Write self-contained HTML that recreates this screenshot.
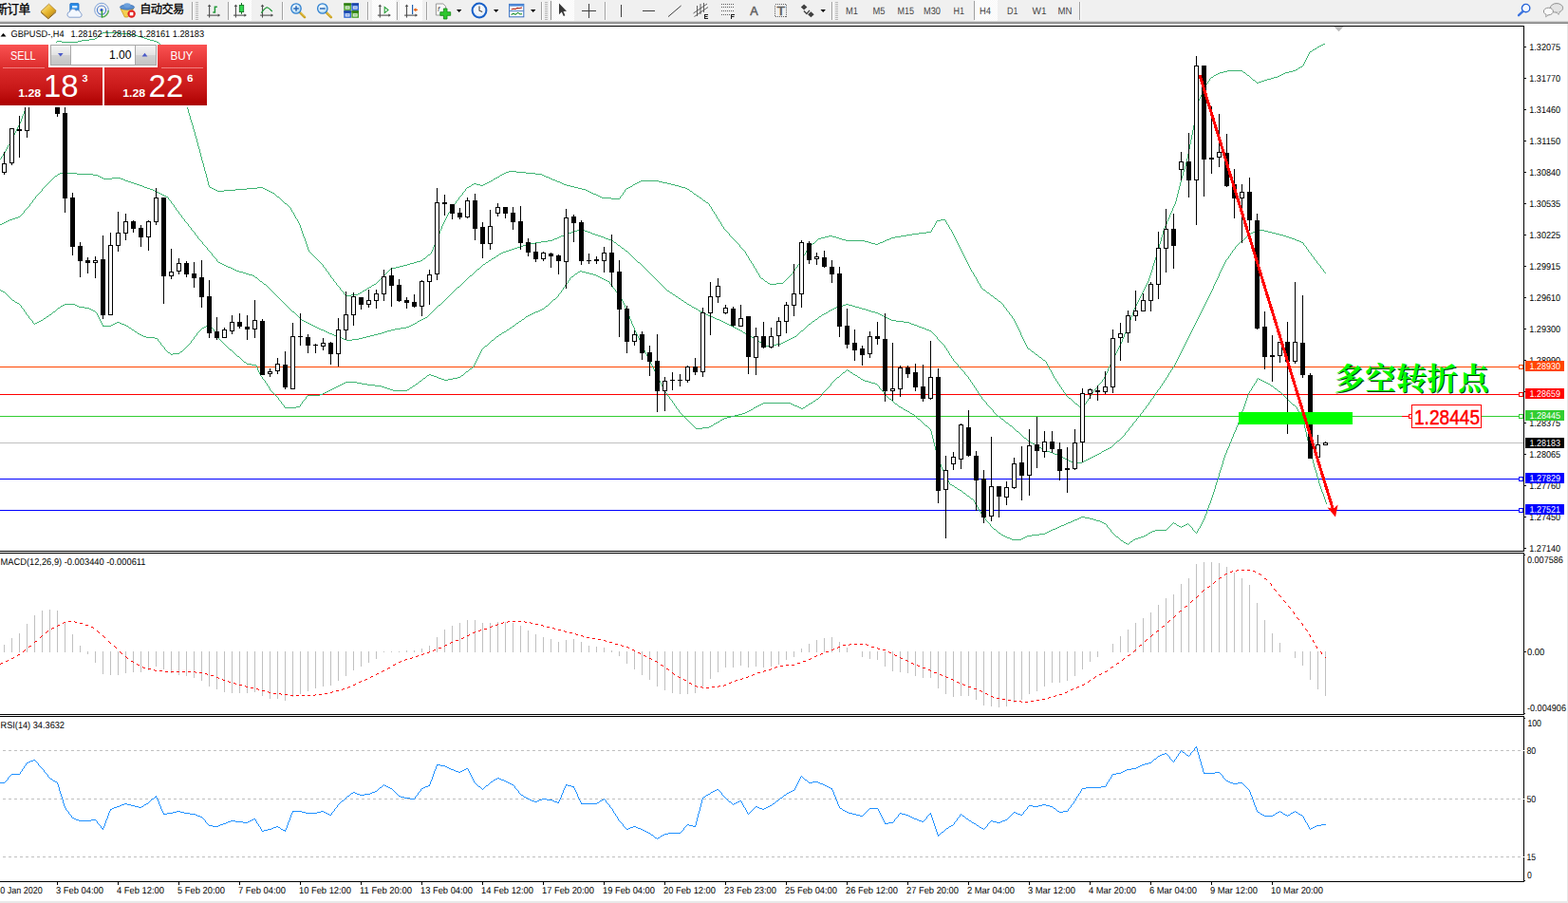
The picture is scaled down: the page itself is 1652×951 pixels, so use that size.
<!DOCTYPE html>
<html><head><meta charset="utf-8"><title>GBPUSD H4</title>
<style>
html,body{margin:0;padding:0;background:#fff;overflow:hidden}
body{width:1652px;height:951px;font-family:"Liberation Sans",sans-serif}
svg text{font-family:"Liberation Sans",sans-serif}
</style></head><body>
<svg width="1652" height="951" viewBox="0 0 1652 951" style="display:block">
<rect x="0" y="0" width="1652" height="951" fill="#fff" />
<g shape-rendering="crispEdges">
<rect x="0" y="386" width="1605" height="1" fill="#FF4500" />
<rect x="0" y="415" width="1605" height="1" fill="#FF0000" />
<rect x="0" y="438" width="1605" height="1" fill="#32CD32" />
<rect x="0" y="466" width="1605" height="1" fill="#C0C0C0" />
<rect x="0" y="504" width="1605" height="1" fill="#0000FF" />
<rect x="0" y="537" width="1605" height="1" fill="#0000FF" />
</g>
<path d="M168 46h1v2h-1zM171 50h1v2h-1zM175 55h1v2h-1zM178 59h1v2h-1zM180 62h1v2h-1zM181 64h1v2h-1zM182 66h1v3h-1zM183 69h1v3h-1zM184 72h1v2h-1zM185 74h1v3h-1zM186 77h1v2h-1zM187 79h1v3h-1zM188 82h1v3h-1zM189 85h1v2h-1zM190 87h1v3h-1zM191 90h1v4h-1zM192 94h1v3h-1zM193 97h1v4h-1zM194 101h1v4h-1zM195 105h1v3h-1zM196 108h1v4h-1zM197 112h1v3h-1zM198 115h1v4h-1zM199 119h1v3h-1zM200 122h1v4h-1zM201 126h1v3h-1zM202 129h1v3h-1zM203 132h1v4h-1zM204 136h1v3h-1zM205 139h1v4h-1zM206 143h1v3h-1zM207 146h1v4h-1zM208 150h1v4h-1zM209 154h1v3h-1zM210 157h1v4h-1zM211 161h1v4h-1zM212 165h1v4h-1zM213 169h1v3h-1zM214 172h1v4h-1zM215 176h1v4h-1zM216 180h1v3h-1zM217 183h1v4h-1zM218 187h1v4h-1zM219 191h1v4h-1zM220 195h1v2h-1zM306 219h1v2h-1zM307 221h1v2h-1zM309 224h1v2h-1zM310 226h1v2h-1zM311 228h1v2h-1zM313 231h1v2h-1zM314 233h1v2h-1zM315 235h1v2h-1zM316 237h1v3h-1zM317 240h1v3h-1zM318 243h1v3h-1zM319 246h1v3h-1zM320 249h1v2h-1zM321 251h1v3h-1zM322 254h1v3h-1zM323 257h1v3h-1zM324 260h1v3h-1zM325 263h1v2h-1zM340 279h1v2h-1zM343 283h1v2h-1zM346 287h1v2h-1zM348 290h1v2h-1zM351 294h1v2h-1zM354 298h1v2h-1zM358 303h1v2h-1zM362 308h1v2h-1zM454 265h1v2h-1zM455 263h1v2h-1zM456 260h1v3h-1zM457 258h1v2h-1zM458 256h1v2h-1zM459 253h1v3h-1zM460 251h1v2h-1zM461 248h1v3h-1zM462 246h1v2h-1zM463 243h1v3h-1zM464 241h1v2h-1zM465 238h1v3h-1zM466 236h1v2h-1zM467 234h1v2h-1zM468 232h1v2h-1zM469 230h1v2h-1zM470 228h1v2h-1zM471 226h1v2h-1zM472 224h1v2h-1zM474 221h1v2h-1zM476 218h1v2h-1zM477 216h1v2h-1zM480 212h1v2h-1zM483 208h1v2h-1zM487 203h1v2h-1zM490 199h1v2h-1zM653 207h1v2h-1zM656 203h1v2h-1zM658 200h1v2h-1zM747 215h1v2h-1zM749 218h1v2h-1zM750 220h1v2h-1zM752 223h1v2h-1zM754 226h1v2h-1zM755 228h1v2h-1zM757 231h1v2h-1zM759 234h1v2h-1zM760 236h1v2h-1zM762 239h1v2h-1zM768 246h1v2h-1zM779 258h1v2h-1zM785 265h1v2h-1zM786 267h1v2h-1zM788 270h1v2h-1zM789 272h1v2h-1zM791 275h1v2h-1zM793 278h1v2h-1zM794 280h1v2h-1zM796 283h1v2h-1zM797 285h1v2h-1zM799 288h1v2h-1zM800 290h1v2h-1zM835 286h1v2h-1zM837 283h1v2h-1zM840 279h1v2h-1zM842 276h1v2h-1zM844 273h1v2h-1zM845 271h1v2h-1zM846 269h1v2h-1zM848 266h1v2h-1zM849 264h1v2h-1zM850 262h1v2h-1zM981 242h1v2h-1zM982 240h1v2h-1zM984 237h1v2h-1zM985 235h1v2h-1zM986 233h1v2h-1zM996 232h1v2h-1zM997 234h1v2h-1zM999 237h1v2h-1zM1000 239h1v2h-1zM1002 242h1v2h-1zM1003 244h1v2h-1zM1004 246h1v2h-1zM1005 248h1v2h-1zM1006 250h1v2h-1zM1007 252h1v2h-1zM1008 254h1v2h-1zM1009 256h1v2h-1zM1010 258h1v2h-1zM1011 260h1v2h-1zM1012 262h1v2h-1zM1013 264h1v2h-1zM1014 266h1v2h-1zM1015 268h1v2h-1zM1016 270h1v2h-1zM1017 272h1v2h-1zM1018 274h1v2h-1zM1019 276h1v2h-1zM1020 278h1v2h-1zM1021 280h1v2h-1zM1022 282h1v2h-1zM1023 284h1v2h-1zM1025 287h1v2h-1zM1026 289h1v2h-1zM1028 292h1v2h-1zM1029 294h1v2h-1zM1030 296h1v2h-1zM1032 299h1v2h-1zM1033 301h1v2h-1zM1057 321h1v2h-1zM1060 325h1v2h-1zM1063 329h1v2h-1zM1066 333h1v2h-1zM1068 336h1v2h-1zM1069 338h1v2h-1zM1070 340h1v2h-1zM1071 342h1v2h-1zM1072 344h1v2h-1zM1073 346h1v2h-1zM1074 348h1v2h-1zM1075 350h1v3h-1zM1076 353h1v2h-1zM1077 355h1v2h-1zM1078 357h1v2h-1zM1079 359h1v2h-1zM1080 361h1v2h-1zM1081 363h1v2h-1zM1082 365h1v2h-1zM1102 381h1v2h-1zM1103 383h1v2h-1zM1104 385h1v2h-1zM1105 387h1v2h-1zM1107 390h1v2h-1zM1108 392h1v2h-1zM1109 394h1v2h-1zM1110 396h1v2h-1zM1112 399h1v2h-1zM1114 402h1v2h-1zM1116 405h1v2h-1zM1118 408h1v2h-1zM1120 411h1v2h-1zM1122 414h1v2h-1zM1144 423h1v2h-1zM1146 420h1v2h-1zM1148 417h1v2h-1zM1150 414h1v2h-1zM1152 411h1v2h-1zM1156 406h1v2h-1zM1161 400h1v2h-1zM1163 397h1v2h-1zM1164 395h1v2h-1zM1165 393h1v2h-1zM1166 391h1v2h-1zM1167 388h1v3h-1zM1168 386h1v2h-1zM1169 384h1v2h-1zM1170 382h1v2h-1zM1171 380h1v2h-1zM1172 378h1v2h-1zM1173 376h1v2h-1zM1174 374h1v2h-1zM1175 372h1v2h-1zM1176 370h1v2h-1zM1177 368h1v2h-1zM1178 366h1v2h-1zM1179 364h1v2h-1zM1180 362h1v2h-1zM1181 360h1v2h-1zM1182 357h1v3h-1zM1183 355h1v2h-1zM1184 352h1v3h-1zM1185 350h1v2h-1zM1186 347h1v3h-1zM1187 344h1v3h-1zM1188 342h1v2h-1zM1189 339h1v3h-1zM1190 337h1v2h-1zM1191 334h1v3h-1zM1192 332h1v2h-1zM1193 329h1v3h-1zM1194 326h1v3h-1zM1195 324h1v2h-1zM1196 322h1v2h-1zM1197 320h1v2h-1zM1198 318h1v2h-1zM1199 316h1v2h-1zM1200 314h1v2h-1zM1201 312h1v2h-1zM1202 310h1v2h-1zM1203 308h1v2h-1zM1204 306h1v2h-1zM1205 304h1v2h-1zM1206 302h1v2h-1zM1207 300h1v2h-1zM1208 298h1v2h-1zM1209 296h1v2h-1zM1210 293h1v3h-1zM1211 290h1v3h-1zM1212 287h1v3h-1zM1213 284h1v3h-1zM1214 280h1v4h-1zM1215 277h1v3h-1zM1216 274h1v3h-1zM1217 271h1v3h-1zM1218 268h1v3h-1zM1219 264h1v4h-1zM1220 261h1v3h-1zM1221 257h1v4h-1zM1222 254h1v3h-1zM1223 250h1v4h-1zM1224 247h1v3h-1zM1225 243h1v4h-1zM1226 240h1v3h-1zM1227 238h1v2h-1zM1228 236h1v2h-1zM1229 233h1v3h-1zM1230 231h1v2h-1zM1231 229h1v2h-1zM1232 226h1v3h-1zM1233 224h1v2h-1zM1234 222h1v2h-1zM1235 219h1v3h-1zM1236 217h1v2h-1zM1237 215h1v2h-1zM1238 212h1v3h-1zM1239 208h1v4h-1zM1240 204h1v4h-1zM1241 200h1v4h-1zM1242 196h1v4h-1zM1243 192h1v4h-1zM1244 188h1v4h-1zM1245 185h1v3h-1zM1246 181h1v4h-1zM1247 178h1v3h-1zM1248 175h1v3h-1zM1249 171h1v4h-1zM1250 167h1v4h-1zM1251 162h1v5h-1zM1252 157h1v5h-1zM1253 152h1v5h-1zM1254 147h1v5h-1zM1255 142h1v5h-1zM1256 137h1v5h-1zM1257 132h1v5h-1zM1258 127h1v5h-1zM1259 121h1v6h-1zM1260 116h1v5h-1zM1261 110h1v6h-1zM1262 106h1v4h-1zM1263 104h1v2h-1zM1264 102h1v2h-1zM1265 100h1v2h-1zM1266 97h1v3h-1zM1267 95h1v2h-1zM1268 93h1v2h-1zM1269 91h1v2h-1zM1270 89h1v2h-1zM1272 86h1v2h-1zM1274 83h1v2h-1zM1373 67h1v2h-1zM1374 65h1v2h-1zM1375 63h1v2h-1zM1376 61h1v2h-1zM1377 59h1v2h-1zM1378 57h1v2h-1zM1379 55h1v2h-1zM108 34h19v1h-19zM106 35h2v1h-2zM127 35h9v1h-9zM105 36h1v1h-1zM136 36h6v1h-6zM104 37h1v1h-1zM142 37h3v1h-3zM103 38h1v1h-1zM145 38h4v1h-4zM102 39h1v1h-1zM149 39h3v1h-3zM100 40h2v1h-2zM152 40h3v1h-3zM94 41h6v1h-6zM155 41h3v1h-3zM86 42h8v1h-8zM158 42h4v1h-4zM60 43h5v1h-5zM82 43h4v1h-4zM162 43h3v1h-3zM59 44h1v1h-1zM65 44h17v1h-17zM165 44h2v1h-2zM167 45h1v1h-1zM1394 46h2v1h-2zM1392 47h2v1h-2zM169 48h1v1h-1zM1390 48h2v1h-2zM170 49h1v1h-1zM1388 49h2v1h-2zM1387 50h1v1h-1zM1385 51h2v1h-2zM172 52h1v1h-1zM1383 52h2v1h-2zM173 53h1v1h-1zM1382 53h1v1h-1zM174 54h1v1h-1zM1380 54h2v1h-2zM176 57h1v1h-1zM177 58h1v1h-1zM179 61h1v1h-1zM1372 69h1v1h-1zM1370 70h2v1h-2zM1368 71h2v1h-2zM1367 72h1v1h-1zM1365 73h2v1h-2zM1293 74h16v1h-16zM1362 74h3v1h-3zM1289 75h4v1h-4zM1309 75h1v1h-1zM1358 75h4v1h-4zM1285 76h4v1h-4zM1310 76h2v1h-2zM1354 76h4v1h-4zM1283 77h2v1h-2zM1312 77h1v1h-1zM1352 77h2v1h-2zM1281 78h2v1h-2zM1313 78h1v1h-1zM1350 78h2v1h-2zM1279 79h2v1h-2zM1314 79h2v1h-2zM1348 79h2v1h-2zM1278 80h1v1h-1zM1316 80h1v1h-1zM1346 80h2v1h-2zM1276 81h2v1h-2zM1317 81h1v1h-1zM1342 81h4v1h-4zM1275 82h1v1h-1zM1318 82h1v1h-1zM1339 82h3v1h-3zM1319 83h1v1h-1zM1335 83h4v1h-4zM1320 84h2v1h-2zM1332 84h3v1h-3zM1273 85h1v1h-1zM1322 85h1v1h-1zM1329 85h3v1h-3zM1323 86h1v1h-1zM1326 86h3v1h-3zM1324 87h2v1h-2zM1271 88h1v1h-1zM536 180h8v1h-8zM533 181h3v1h-3zM544 181h10v1h-10zM531 182h2v1h-2zM554 182h10v1h-10zM529 183h2v1h-2zM564 183h7v1h-7zM527 184h2v1h-2zM571 184h2v1h-2zM526 185h1v1h-1zM573 185h2v1h-2zM524 186h2v1h-2zM575 186h3v1h-3zM522 187h2v1h-2zM578 187h2v1h-2zM520 188h2v1h-2zM580 188h2v1h-2zM519 189h1v1h-1zM582 189h3v1h-3zM517 190h2v1h-2zM585 190h2v1h-2zM675 190h19v1h-19zM515 191h2v1h-2zM587 191h3v1h-3zM673 191h2v1h-2zM694 191h4v1h-4zM513 192h2v1h-2zM590 192h2v1h-2zM671 192h2v1h-2zM698 192h5v1h-5zM499 193h3v1h-3zM511 193h2v1h-2zM592 193h2v1h-2zM669 193h2v1h-2zM703 193h4v1h-4zM497 194h2v1h-2zM502 194h4v1h-4zM509 194h2v1h-2zM594 194h3v1h-3zM667 194h2v1h-2zM707 194h4v1h-4zM496 195h1v1h-1zM506 195h3v1h-3zM597 195h4v1h-4zM666 195h1v1h-1zM711 195h4v1h-4zM494 196h2v1h-2zM601 196h4v1h-4zM664 196h2v1h-2zM715 196h3v1h-3zM221 197h2v1h-2zM271 197h6v1h-6zM492 197h2v1h-2zM605 197h4v1h-4zM662 197h2v1h-2zM718 197h4v1h-4zM223 198h2v1h-2zM260 198h11v1h-11zM277 198h2v1h-2zM491 198h1v1h-1zM609 198h4v1h-4zM660 198h2v1h-2zM722 198h2v1h-2zM225 199h2v1h-2zM248 199h12v1h-12zM279 199h2v1h-2zM613 199h4v1h-4zM659 199h1v1h-1zM724 199h2v1h-2zM227 200h2v1h-2zM236 200h12v1h-12zM281 200h2v1h-2zM617 200h2v1h-2zM726 200h1v1h-1zM229 201h7v1h-7zM283 201h2v1h-2zM489 201h1v1h-1zM619 201h2v1h-2zM727 201h2v1h-2zM285 202h2v1h-2zM488 202h1v1h-1zM621 202h2v1h-2zM657 202h1v1h-1zM729 202h1v1h-1zM287 203h2v1h-2zM623 203h2v1h-2zM730 203h1v1h-1zM289 204h1v1h-1zM625 204h3v1h-3zM731 204h2v1h-2zM290 205h1v1h-1zM486 205h1v1h-1zM628 205h2v1h-2zM655 205h1v1h-1zM733 205h1v1h-1zM291 206h1v1h-1zM485 206h1v1h-1zM630 206h2v1h-2zM654 206h1v1h-1zM734 206h2v1h-2zM292 207h2v1h-2zM484 207h1v1h-1zM632 207h2v1h-2zM736 207h1v1h-1zM294 208h1v1h-1zM634 208h10v1h-10zM737 208h2v1h-2zM295 209h1v1h-1zM644 209h9v1h-9zM739 209h1v1h-1zM296 210h1v1h-1zM482 210h1v1h-1zM740 210h1v1h-1zM297 211h1v1h-1zM481 211h1v1h-1zM741 211h2v1h-2zM298 212h1v1h-1zM743 212h1v1h-1zM299 213h1v1h-1zM744 213h2v1h-2zM300 214h2v1h-2zM479 214h1v1h-1zM746 214h1v1h-1zM302 215h1v1h-1zM478 215h1v1h-1zM303 216h1v1h-1zM304 217h1v1h-1zM748 217h1v1h-1zM305 218h1v1h-1zM475 220h1v1h-1zM751 222h1v1h-1zM308 223h1v1h-1zM473 223h1v1h-1zM753 225h1v1h-1zM312 230h1v1h-1zM756 230h1v1h-1zM991 231h5v1h-5zM987 232h4v1h-4zM758 233h1v1h-1zM998 236h1v1h-1zM761 238h1v1h-1zM983 239h1v1h-1zM763 241h1v1h-1zM1001 241h1v1h-1zM764 242h1v1h-1zM765 243h1v1h-1zM766 244h1v1h-1zM976 244h5v1h-5zM767 245h1v1h-1zM968 245h8v1h-8zM961 246h7v1h-7zM955 247h6v1h-6zM769 248h1v1h-1zM873 248h4v1h-4zM949 248h6v1h-6zM770 249h1v1h-1zM869 249h4v1h-4zM877 249h4v1h-4zM943 249h6v1h-6zM771 250h1v1h-1zM865 250h4v1h-4zM881 250h3v1h-3zM939 250h4v1h-4zM772 251h1v1h-1zM862 251h3v1h-3zM884 251h3v1h-3zM937 251h2v1h-2zM773 252h1v1h-1zM861 252h1v1h-1zM887 252h4v1h-4zM934 252h3v1h-3zM774 253h1v1h-1zM860 253h1v1h-1zM891 253h20v1h-20zM932 253h2v1h-2zM775 254h1v1h-1zM859 254h1v1h-1zM911 254h4v1h-4zM930 254h2v1h-2zM776 255h1v1h-1zM858 255h1v1h-1zM915 255h3v1h-3zM927 255h3v1h-3zM777 256h1v1h-1zM856 256h2v1h-2zM918 256h4v1h-4zM925 256h2v1h-2zM778 257h1v1h-1zM855 257h1v1h-1zM922 257h3v1h-3zM854 258h1v1h-1zM853 259h1v1h-1zM780 260h1v1h-1zM852 260h1v1h-1zM781 261h1v1h-1zM851 261h1v1h-1zM782 262h1v1h-1zM783 263h1v1h-1zM784 264h1v1h-1zM326 265h1v1h-1zM327 266h1v1h-1zM328 267h1v1h-1zM453 267h1v1h-1zM329 268h1v1h-1zM451 268h2v1h-2zM847 268h1v1h-1zM330 269h1v1h-1zM450 269h1v1h-1zM787 269h1v1h-1zM331 270h1v1h-1zM449 270h1v1h-1zM332 271h1v1h-1zM448 271h1v1h-1zM333 272h1v1h-1zM446 272h2v1h-2zM334 273h1v1h-1zM445 273h1v1h-1zM335 274h1v1h-1zM443 274h2v1h-2zM790 274h1v1h-1zM336 275h1v1h-1zM439 275h4v1h-4zM843 275h1v1h-1zM337 276h1v1h-1zM436 276h3v1h-3zM338 277h1v1h-1zM432 277h4v1h-4zM792 277h1v1h-1zM339 278h1v1h-1zM429 278h3v1h-3zM841 278h1v1h-1zM425 279h4v1h-4zM421 280h4v1h-4zM341 281h1v1h-1zM417 281h4v1h-4zM839 281h1v1h-1zM342 282h1v1h-1zM413 282h4v1h-4zM795 282h1v1h-1zM838 282h1v1h-1zM411 283h2v1h-2zM410 284h1v1h-1zM344 285h1v1h-1zM409 285h1v1h-1zM836 285h1v1h-1zM345 286h1v1h-1zM408 286h1v1h-1zM1024 286h1v1h-1zM407 287h1v1h-1zM798 287h1v1h-1zM406 288h1v1h-1zM834 288h1v1h-1zM347 289h1v1h-1zM405 289h1v1h-1zM833 289h1v1h-1zM404 290h1v1h-1zM832 290h1v1h-1zM403 291h1v1h-1zM831 291h1v1h-1zM1027 291h1v1h-1zM349 292h1v1h-1zM402 292h1v1h-1zM801 292h1v1h-1zM830 292h1v1h-1zM350 293h1v1h-1zM401 293h1v1h-1zM802 293h2v1h-2zM829 293h1v1h-1zM400 294h1v1h-1zM804 294h1v1h-1zM828 294h1v1h-1zM399 295h1v1h-1zM805 295h1v1h-1zM827 295h1v1h-1zM352 296h1v1h-1zM398 296h1v1h-1zM806 296h2v1h-2zM826 296h1v1h-1zM353 297h1v1h-1zM397 297h1v1h-1zM808 297h1v1h-1zM825 297h1v1h-1zM396 298h1v1h-1zM809 298h2v1h-2zM818 298h7v1h-7zM1031 298h1v1h-1zM394 299h2v1h-2zM811 299h7v1h-7zM355 300h1v1h-1zM392 300h2v1h-2zM356 301h1v1h-1zM391 301h1v1h-1zM357 302h1v1h-1zM389 302h2v1h-2zM387 303h2v1h-2zM1034 303h1v1h-1zM386 304h1v1h-1zM1035 304h1v1h-1zM359 305h1v1h-1zM384 305h2v1h-2zM1036 305h2v1h-2zM360 306h1v1h-1zM382 306h2v1h-2zM1038 306h1v1h-1zM361 307h1v1h-1zM381 307h1v1h-1zM1039 307h1v1h-1zM379 308h2v1h-2zM1040 308h2v1h-2zM377 309h2v1h-2zM1042 309h1v1h-1zM363 310h1v1h-1zM370 310h7v1h-7zM1043 310h1v1h-1zM364 311h6v1h-6zM1044 311h2v1h-2zM1046 312h1v1h-1zM1047 313h1v1h-1zM1048 314h2v1h-2zM1050 315h1v1h-1zM1051 316h1v1h-1zM1052 317h2v1h-2zM1054 318h1v1h-1zM1055 319h1v1h-1zM1056 320h1v1h-1zM1058 323h1v1h-1zM1059 324h1v1h-1zM1061 327h1v1h-1zM1062 328h1v1h-1zM1064 331h1v1h-1zM1065 332h1v1h-1zM1067 335h1v1h-1zM1083 367h2v1h-2zM1085 368h1v1h-1zM1086 369h1v1h-1zM1087 370h2v1h-2zM1089 371h1v1h-1zM1090 372h1v1h-1zM1091 373h2v1h-2zM1093 374h1v1h-1zM1094 375h1v1h-1zM1095 376h2v1h-2zM1097 377h1v1h-1zM1098 378h1v1h-1zM1099 379h2v1h-2zM1101 380h1v1h-1zM1106 389h1v1h-1zM1111 398h1v1h-1zM1162 399h1v1h-1zM1113 401h1v1h-1zM1160 402h1v1h-1zM1159 403h1v1h-1zM1115 404h1v1h-1zM1158 404h1v1h-1zM1157 405h1v1h-1zM1117 407h1v1h-1zM1155 408h1v1h-1zM1154 409h1v1h-1zM1119 410h1v1h-1zM1153 410h1v1h-1zM1121 413h1v1h-1zM1151 413h1v1h-1zM1123 416h1v1h-1zM1149 416h1v1h-1zM1124 417h1v1h-1zM1125 418h1v1h-1zM1126 419h2v1h-2zM1147 419h1v1h-1zM1128 420h1v1h-1zM1129 421h1v1h-1zM1130 422h1v1h-1zM1145 422h1v1h-1zM1131 423h1v1h-1zM1132 424h1v1h-1zM1133 425h2v1h-2zM1142 425h2v1h-2zM1135 426h1v1h-1zM1140 426h2v1h-2zM1136 427h1v1h-1zM1138 427h2v1h-2zM1137 428h1v1h-1z" fill="#3CB371" shape-rendering="crispEdges"/>
<path d="M1 165h1v2h-1zM3 162h1v2h-1zM5 159h1v2h-1zM6 157h1v2h-1zM7 155h1v2h-1zM8 153h1v2h-1zM10 150h1v2h-1zM11 148h1v2h-1zM12 146h1v2h-1zM13 144h1v2h-1zM14 142h1v2h-1zM15 140h1v2h-1zM16 138h1v2h-1zM17 136h1v2h-1zM18 134h1v2h-1zM19 132h1v2h-1zM20 130h1v2h-1zM21 128h1v2h-1zM22 125h1v3h-1zM23 122h1v3h-1zM24 120h1v2h-1zM25 117h1v3h-1zM26 114h1v3h-1zM27 112h1v2h-1zM9 152h1v1h-1zM4 161h1v1h-1zM2 164h1v1h-1zM0 167h1v1h-1z" fill="#3CB371" shape-rendering="crispEdges"/>
<path d="M25 222h1v2h-1zM31 215h1v2h-1zM34 211h1v2h-1zM37 207h1v2h-1zM44 199h1v2h-1zM177 208h1v2h-1zM180 212h1v2h-1zM183 216h1v2h-1zM185 219h1v2h-1zM188 223h1v2h-1zM191 227h1v2h-1zM194 231h1v2h-1zM198 236h1v2h-1zM201 240h1v2h-1zM205 245h1v2h-1zM208 249h1v2h-1zM213 255h1v2h-1zM218 261h1v2h-1zM223 267h1v2h-1zM228 273h1v2h-1zM987 355h1v2h-1zM995 364h1v2h-1zM997 367h1v2h-1zM999 370h1v2h-1zM1000 372h1v2h-1zM1002 375h1v2h-1zM1004 378h1v2h-1zM1009 384h1v2h-1zM1016 392h1v2h-1zM1020 397h1v2h-1zM1022 400h1v2h-1zM1024 403h1v2h-1zM1026 406h1v2h-1zM1028 409h1v2h-1zM1030 412h1v2h-1zM1032 415h1v2h-1zM1034 418h1v2h-1zM1039 424h1v2h-1zM1046 432h1v2h-1zM1185 456h1v2h-1zM1189 451h1v2h-1zM1193 446h1v2h-1zM1197 441h1v2h-1zM1201 436h1v2h-1zM1204 432h1v2h-1zM1207 428h1v2h-1zM1210 424h1v2h-1zM1212 421h1v2h-1zM1215 417h1v2h-1zM1217 414h1v2h-1zM1219 411h1v2h-1zM1222 407h1v2h-1zM1224 404h1v2h-1zM1226 401h1v2h-1zM1228 398h1v2h-1zM1230 395h1v2h-1zM1231 393h1v2h-1zM1233 390h1v2h-1zM1235 387h1v2h-1zM1237 384h1v2h-1zM1238 382h1v2h-1zM1239 380h1v2h-1zM1240 378h1v2h-1zM1241 376h1v2h-1zM1242 374h1v2h-1zM1243 372h1v2h-1zM1244 370h1v2h-1zM1245 368h1v2h-1zM1246 366h1v2h-1zM1247 364h1v2h-1zM1248 362h1v2h-1zM1249 360h1v2h-1zM1250 358h1v2h-1zM1251 356h1v2h-1zM1252 354h1v2h-1zM1253 352h1v2h-1zM1254 350h1v2h-1zM1255 348h1v2h-1zM1256 346h1v2h-1zM1257 344h1v2h-1zM1258 342h1v2h-1zM1259 340h1v2h-1zM1260 338h1v2h-1zM1261 336h1v2h-1zM1262 334h1v2h-1zM1263 332h1v2h-1zM1264 330h1v2h-1zM1265 328h1v2h-1zM1266 326h1v2h-1zM1267 324h1v2h-1zM1268 322h1v2h-1zM1269 320h1v2h-1zM1270 318h1v2h-1zM1271 316h1v2h-1zM1272 314h1v2h-1zM1273 312h1v2h-1zM1274 310h1v2h-1zM1275 308h1v2h-1zM1276 306h1v2h-1zM1277 304h1v2h-1zM1278 301h1v3h-1zM1279 299h1v2h-1zM1280 297h1v2h-1zM1281 295h1v2h-1zM1282 293h1v2h-1zM1283 291h1v2h-1zM1284 288h1v3h-1zM1285 286h1v2h-1zM1286 284h1v2h-1zM1287 282h1v2h-1zM1288 280h1v2h-1zM1289 278h1v2h-1zM1290 276h1v2h-1zM1291 274h1v2h-1zM1294 270h1v2h-1zM1296 267h1v2h-1zM1298 264h1v2h-1zM1301 260h1v2h-1zM1373 256h1v2h-1zM1376 260h1v2h-1zM1378 263h1v2h-1zM1381 267h1v2h-1zM1384 271h1v2h-1zM1387 275h1v2h-1zM1391 280h1v2h-1zM1394 284h1v2h-1zM63 182h18v1h-18zM61 183h2v1h-2zM81 183h17v1h-17zM60 184h1v1h-1zM98 184h5v1h-5zM58 185h2v1h-2zM103 185h2v1h-2zM57 186h1v1h-1zM105 186h2v1h-2zM56 187h1v1h-1zM107 187h2v1h-2zM118 187h9v1h-9zM55 188h1v1h-1zM109 188h9v1h-9zM127 188h3v1h-3zM54 189h1v1h-1zM130 189h2v1h-2zM53 190h1v1h-1zM132 190h3v1h-3zM52 191h1v1h-1zM135 191h3v1h-3zM51 192h1v1h-1zM138 192h3v1h-3zM50 193h1v1h-1zM141 193h3v1h-3zM49 194h1v1h-1zM144 194h3v1h-3zM48 195h1v1h-1zM147 195h3v1h-3zM47 196h1v1h-1zM150 196h2v1h-2zM46 197h1v1h-1zM152 197h3v1h-3zM45 198h1v1h-1zM155 198h3v1h-3zM158 199h3v1h-3zM161 200h2v1h-2zM43 201h1v1h-1zM163 201h2v1h-2zM42 202h1v1h-1zM165 202h2v1h-2zM41 203h1v1h-1zM167 203h2v1h-2zM40 204h1v1h-1zM169 204h2v1h-2zM39 205h1v1h-1zM171 205h2v1h-2zM38 206h1v1h-1zM173 206h2v1h-2zM175 207h2v1h-2zM36 209h1v1h-1zM35 210h1v1h-1zM178 210h1v1h-1zM179 211h1v1h-1zM33 213h1v1h-1zM32 214h1v1h-1zM181 214h1v1h-1zM182 215h1v1h-1zM30 217h1v1h-1zM29 218h1v1h-1zM184 218h1v1h-1zM28 219h1v1h-1zM27 220h1v1h-1zM26 221h1v1h-1zM186 221h1v1h-1zM187 222h1v1h-1zM24 224h1v1h-1zM23 225h1v1h-1zM189 225h1v1h-1zM22 226h1v1h-1zM190 226h1v1h-1zM21 227h1v1h-1zM19 228h2v1h-2zM16 229h3v1h-3zM192 229h1v1h-1zM13 230h3v1h-3zM193 230h1v1h-1zM10 231h3v1h-3zM8 232h2v1h-2zM6 233h2v1h-2zM195 233h1v1h-1zM4 234h2v1h-2zM196 234h1v1h-1zM2 235h2v1h-2zM197 235h1v1h-1zM0 236h2v1h-2zM199 238h1v1h-1zM200 239h1v1h-1zM611 241h3v1h-3zM202 242h1v1h-1zM608 242h3v1h-3zM614 242h2v1h-2zM1326 242h6v1h-6zM203 243h1v1h-1zM605 243h3v1h-3zM616 243h3v1h-3zM1322 243h4v1h-4zM1332 243h4v1h-4zM204 244h1v1h-1zM602 244h3v1h-3zM619 244h3v1h-3zM1320 244h2v1h-2zM1336 244h4v1h-4zM599 245h3v1h-3zM622 245h2v1h-2zM1318 245h2v1h-2zM1340 245h4v1h-4zM596 246h3v1h-3zM624 246h3v1h-3zM1317 246h1v1h-1zM1344 246h4v1h-4zM206 247h1v1h-1zM594 247h2v1h-2zM627 247h3v1h-3zM1315 247h2v1h-2zM1348 247h4v1h-4zM207 248h1v1h-1zM591 248h3v1h-3zM630 248h3v1h-3zM1314 248h1v1h-1zM1352 248h3v1h-3zM589 249h2v1h-2zM633 249h3v1h-3zM1313 249h1v1h-1zM1355 249h3v1h-3zM587 250h2v1h-2zM636 250h2v1h-2zM1312 250h1v1h-1zM1358 250h3v1h-3zM209 251h1v1h-1zM584 251h3v1h-3zM638 251h3v1h-3zM1311 251h1v1h-1zM1361 251h3v1h-3zM210 252h1v1h-1zM582 252h2v1h-2zM641 252h3v1h-3zM1310 252h1v1h-1zM1364 252h2v1h-2zM211 253h1v1h-1zM577 253h5v1h-5zM644 253h2v1h-2zM1308 253h2v1h-2zM1366 253h3v1h-3zM212 254h1v1h-1zM570 254h7v1h-7zM646 254h1v1h-1zM1307 254h1v1h-1zM1369 254h2v1h-2zM564 255h6v1h-6zM647 255h2v1h-2zM1306 255h1v1h-1zM1371 255h2v1h-2zM559 256h5v1h-5zM649 256h1v1h-1zM1305 256h1v1h-1zM214 257h1v1h-1zM555 257h4v1h-4zM650 257h1v1h-1zM1304 257h1v1h-1zM215 258h1v1h-1zM551 258h4v1h-4zM651 258h2v1h-2zM1303 258h1v1h-1zM1374 258h1v1h-1zM216 259h1v1h-1zM548 259h3v1h-3zM653 259h1v1h-1zM1302 259h1v1h-1zM1375 259h1v1h-1zM217 260h1v1h-1zM545 260h3v1h-3zM654 260h1v1h-1zM542 261h3v1h-3zM655 261h2v1h-2zM539 262h3v1h-3zM657 262h1v1h-1zM1300 262h1v1h-1zM1377 262h1v1h-1zM219 263h1v1h-1zM536 263h3v1h-3zM658 263h1v1h-1zM1299 263h1v1h-1zM220 264h1v1h-1zM533 264h3v1h-3zM659 264h2v1h-2zM221 265h1v1h-1zM530 265h3v1h-3zM661 265h1v1h-1zM1379 265h1v1h-1zM222 266h1v1h-1zM528 266h2v1h-2zM662 266h1v1h-1zM1297 266h1v1h-1zM1380 266h1v1h-1zM526 267h2v1h-2zM663 267h1v1h-1zM525 268h1v1h-1zM664 268h1v1h-1zM224 269h1v1h-1zM523 269h2v1h-2zM665 269h1v1h-1zM1295 269h1v1h-1zM1382 269h1v1h-1zM225 270h1v1h-1zM522 270h1v1h-1zM666 270h1v1h-1zM1383 270h1v1h-1zM226 271h1v1h-1zM520 271h2v1h-2zM667 271h1v1h-1zM227 272h1v1h-1zM518 272h2v1h-2zM668 272h1v1h-1zM1293 272h1v1h-1zM517 273h1v1h-1zM669 273h1v1h-1zM1292 273h1v1h-1zM1385 273h1v1h-1zM515 274h2v1h-2zM670 274h1v1h-1zM1386 274h1v1h-1zM229 275h1v1h-1zM514 275h1v1h-1zM671 275h1v1h-1zM230 276h2v1h-2zM512 276h2v1h-2zM672 276h2v1h-2zM232 277h2v1h-2zM511 277h1v1h-1zM674 277h1v1h-1zM1388 277h1v1h-1zM234 278h2v1h-2zM509 278h2v1h-2zM675 278h1v1h-1zM1389 278h1v1h-1zM236 279h2v1h-2zM508 279h1v1h-1zM676 279h1v1h-1zM1390 279h1v1h-1zM238 280h2v1h-2zM507 280h1v1h-1zM677 280h1v1h-1zM240 281h3v1h-3zM506 281h1v1h-1zM678 281h1v1h-1zM243 282h2v1h-2zM505 282h1v1h-1zM679 282h1v1h-1zM1392 282h1v1h-1zM245 283h2v1h-2zM503 283h2v1h-2zM680 283h1v1h-1zM1393 283h1v1h-1zM247 284h2v1h-2zM502 284h1v1h-1zM681 284h1v1h-1zM249 285h3v1h-3zM501 285h1v1h-1zM682 285h1v1h-1zM252 286h4v1h-4zM500 286h1v1h-1zM683 286h1v1h-1zM1395 286h1v1h-1zM256 287h3v1h-3zM499 287h1v1h-1zM684 287h1v1h-1zM1396 287h1v1h-1zM259 288h3v1h-3zM498 288h1v1h-1zM685 288h1v1h-1zM262 289h4v1h-4zM497 289h1v1h-1zM686 289h1v1h-1zM266 290h2v1h-2zM495 290h2v1h-2zM687 290h1v1h-1zM268 291h1v1h-1zM494 291h1v1h-1zM688 291h1v1h-1zM269 292h2v1h-2zM493 292h1v1h-1zM689 292h1v1h-1zM271 293h1v1h-1zM492 293h1v1h-1zM690 293h1v1h-1zM272 294h1v1h-1zM491 294h1v1h-1zM691 294h1v1h-1zM273 295h1v1h-1zM490 295h1v1h-1zM692 295h1v1h-1zM274 296h2v1h-2zM489 296h1v1h-1zM693 296h1v1h-1zM276 297h1v1h-1zM488 297h1v1h-1zM694 297h1v1h-1zM277 298h1v1h-1zM487 298h1v1h-1zM695 298h1v1h-1zM278 299h2v1h-2zM486 299h1v1h-1zM696 299h1v1h-1zM280 300h1v1h-1zM485 300h1v1h-1zM697 300h1v1h-1zM281 301h1v1h-1zM484 301h1v1h-1zM698 301h1v1h-1zM282 302h1v1h-1zM482 302h2v1h-2zM699 302h1v1h-1zM283 303h1v1h-1zM481 303h1v1h-1zM700 303h1v1h-1zM284 304h1v1h-1zM480 304h1v1h-1zM701 304h1v1h-1zM285 305h1v1h-1zM479 305h1v1h-1zM702 305h1v1h-1zM286 306h1v1h-1zM478 306h1v1h-1zM703 306h2v1h-2zM287 307h1v1h-1zM477 307h1v1h-1zM705 307h1v1h-1zM288 308h1v1h-1zM476 308h1v1h-1zM706 308h2v1h-2zM289 309h1v1h-1zM475 309h1v1h-1zM708 309h1v1h-1zM290 310h1v1h-1zM474 310h1v1h-1zM709 310h2v1h-2zM291 311h1v1h-1zM473 311h1v1h-1zM711 311h1v1h-1zM292 312h1v1h-1zM472 312h1v1h-1zM712 312h2v1h-2zM293 313h1v1h-1zM471 313h1v1h-1zM714 313h1v1h-1zM294 314h1v1h-1zM470 314h1v1h-1zM715 314h2v1h-2zM295 315h1v1h-1zM469 315h1v1h-1zM717 315h1v1h-1zM296 316h1v1h-1zM468 316h1v1h-1zM718 316h2v1h-2zM297 317h1v1h-1zM467 317h1v1h-1zM720 317h1v1h-1zM298 318h1v1h-1zM466 318h1v1h-1zM721 318h2v1h-2zM299 319h1v1h-1zM465 319h1v1h-1zM723 319h1v1h-1zM300 320h1v1h-1zM464 320h1v1h-1zM724 320h2v1h-2zM891 320h3v1h-3zM301 321h1v1h-1zM462 321h2v1h-2zM726 321h2v1h-2zM888 321h3v1h-3zM894 321h4v1h-4zM302 322h1v1h-1zM461 322h1v1h-1zM728 322h1v1h-1zM884 322h4v1h-4zM898 322h3v1h-3zM303 323h1v1h-1zM460 323h1v1h-1zM729 323h2v1h-2zM881 323h3v1h-3zM901 323h4v1h-4zM304 324h1v1h-1zM459 324h1v1h-1zM731 324h2v1h-2zM879 324h2v1h-2zM905 324h3v1h-3zM305 325h1v1h-1zM458 325h1v1h-1zM733 325h2v1h-2zM877 325h2v1h-2zM908 325h4v1h-4zM306 326h1v1h-1zM457 326h1v1h-1zM735 326h1v1h-1zM875 326h2v1h-2zM912 326h3v1h-3zM307 327h1v1h-1zM456 327h1v1h-1zM736 327h2v1h-2zM873 327h2v1h-2zM915 327h3v1h-3zM308 328h2v1h-2zM455 328h1v1h-1zM738 328h2v1h-2zM872 328h1v1h-1zM918 328h4v1h-4zM310 329h1v1h-1zM454 329h1v1h-1zM740 329h2v1h-2zM870 329h2v1h-2zM922 329h3v1h-3zM311 330h1v1h-1zM453 330h1v1h-1zM742 330h2v1h-2zM868 330h2v1h-2zM925 330h2v1h-2zM312 331h1v1h-1zM452 331h1v1h-1zM744 331h2v1h-2zM866 331h2v1h-2zM927 331h2v1h-2zM313 332h1v1h-1zM451 332h1v1h-1zM746 332h2v1h-2zM865 332h1v1h-1zM929 332h2v1h-2zM314 333h1v1h-1zM450 333h1v1h-1zM748 333h3v1h-3zM863 333h2v1h-2zM931 333h2v1h-2zM315 334h1v1h-1zM448 334h2v1h-2zM751 334h2v1h-2zM862 334h1v1h-1zM933 334h2v1h-2zM316 335h1v1h-1zM446 335h2v1h-2zM753 335h2v1h-2zM861 335h1v1h-1zM935 335h2v1h-2zM317 336h1v1h-1zM444 336h2v1h-2zM755 336h3v1h-3zM859 336h2v1h-2zM937 336h2v1h-2zM318 337h2v1h-2zM442 337h2v1h-2zM758 337h2v1h-2zM858 337h1v1h-1zM939 337h5v1h-5zM320 338h2v1h-2zM440 338h2v1h-2zM760 338h2v1h-2zM856 338h2v1h-2zM944 338h8v1h-8zM322 339h2v1h-2zM439 339h1v1h-1zM762 339h2v1h-2zM855 339h1v1h-1zM952 339h6v1h-6zM324 340h2v1h-2zM437 340h2v1h-2zM764 340h2v1h-2zM854 340h1v1h-1zM958 340h2v1h-2zM326 341h2v1h-2zM435 341h2v1h-2zM766 341h2v1h-2zM852 341h2v1h-2zM960 341h3v1h-3zM328 342h2v1h-2zM433 342h2v1h-2zM768 342h2v1h-2zM851 342h1v1h-1zM963 342h3v1h-3zM330 343h2v1h-2zM431 343h2v1h-2zM770 343h2v1h-2zM850 343h1v1h-1zM966 343h2v1h-2zM332 344h2v1h-2zM428 344h3v1h-3zM772 344h2v1h-2zM849 344h1v1h-1zM968 344h3v1h-3zM334 345h2v1h-2zM422 345h6v1h-6zM774 345h2v1h-2zM848 345h1v1h-1zM971 345h3v1h-3zM336 346h2v1h-2zM416 346h6v1h-6zM776 346h2v1h-2zM847 346h1v1h-1zM974 346h2v1h-2zM338 347h3v1h-3zM412 347h4v1h-4zM778 347h2v1h-2zM846 347h1v1h-1zM976 347h3v1h-3zM341 348h2v1h-2zM408 348h4v1h-4zM780 348h2v1h-2zM844 348h2v1h-2zM979 348h2v1h-2zM343 349h2v1h-2zM405 349h3v1h-3zM782 349h1v1h-1zM843 349h1v1h-1zM981 349h1v1h-1zM345 350h2v1h-2zM402 350h3v1h-3zM783 350h2v1h-2zM842 350h1v1h-1zM982 350h1v1h-1zM347 351h3v1h-3zM398 351h4v1h-4zM785 351h2v1h-2zM841 351h1v1h-1zM983 351h1v1h-1zM350 352h2v1h-2zM394 352h4v1h-4zM787 352h2v1h-2zM840 352h1v1h-1zM984 352h1v1h-1zM352 353h2v1h-2zM390 353h4v1h-4zM789 353h1v1h-1zM839 353h1v1h-1zM985 353h1v1h-1zM354 354h3v1h-3zM386 354h4v1h-4zM790 354h2v1h-2zM837 354h2v1h-2zM986 354h1v1h-1zM357 355h3v1h-3zM382 355h4v1h-4zM792 355h2v1h-2zM835 355h2v1h-2zM360 356h2v1h-2zM378 356h4v1h-4zM794 356h1v1h-1zM833 356h2v1h-2zM362 357h3v1h-3zM371 357h7v1h-7zM795 357h2v1h-2zM831 357h2v1h-2zM988 357h1v1h-1zM365 358h6v1h-6zM797 358h2v1h-2zM829 358h2v1h-2zM989 358h1v1h-1zM799 359h1v1h-1zM827 359h2v1h-2zM990 359h1v1h-1zM800 360h2v1h-2zM825 360h2v1h-2zM991 360h1v1h-1zM802 361h1v1h-1zM823 361h2v1h-2zM992 361h1v1h-1zM803 362h2v1h-2zM818 362h5v1h-5zM993 362h1v1h-1zM805 363h2v1h-2zM811 363h7v1h-7zM994 363h1v1h-1zM807 364h4v1h-4zM996 366h1v1h-1zM998 369h1v1h-1zM1001 374h1v1h-1zM1003 377h1v1h-1zM1005 380h1v1h-1zM1006 381h1v1h-1zM1007 382h1v1h-1zM1008 383h1v1h-1zM1010 386h1v1h-1zM1236 386h1v1h-1zM1011 387h1v1h-1zM1012 388h1v1h-1zM1013 389h1v1h-1zM1234 389h1v1h-1zM1014 390h1v1h-1zM1015 391h1v1h-1zM1232 392h1v1h-1zM1017 394h1v1h-1zM1018 395h1v1h-1zM1019 396h1v1h-1zM1229 397h1v1h-1zM1021 399h1v1h-1zM1227 400h1v1h-1zM1023 402h1v1h-1zM1225 403h1v1h-1zM1025 405h1v1h-1zM1223 406h1v1h-1zM1027 408h1v1h-1zM1221 409h1v1h-1zM1220 410h1v1h-1zM1029 411h1v1h-1zM1218 413h1v1h-1zM1031 414h1v1h-1zM1216 416h1v1h-1zM1033 417h1v1h-1zM1214 419h1v1h-1zM1035 420h1v1h-1zM1213 420h1v1h-1zM1036 421h1v1h-1zM1037 422h1v1h-1zM1038 423h1v1h-1zM1211 423h1v1h-1zM1040 426h1v1h-1zM1209 426h1v1h-1zM1041 427h1v1h-1zM1208 427h1v1h-1zM1042 428h1v1h-1zM1043 429h1v1h-1zM1044 430h1v1h-1zM1206 430h1v1h-1zM1045 431h1v1h-1zM1205 431h1v1h-1zM1047 434h1v1h-1zM1203 434h1v1h-1zM1048 435h1v1h-1zM1202 435h1v1h-1zM1049 436h1v1h-1zM1050 437h1v1h-1zM1051 438h2v1h-2zM1200 438h1v1h-1zM1053 439h1v1h-1zM1199 439h1v1h-1zM1054 440h1v1h-1zM1198 440h1v1h-1zM1055 441h2v1h-2zM1057 442h1v1h-1zM1058 443h1v1h-1zM1196 443h1v1h-1zM1059 444h1v1h-1zM1195 444h1v1h-1zM1060 445h2v1h-2zM1194 445h1v1h-1zM1062 446h1v1h-1zM1063 447h1v1h-1zM1064 448h2v1h-2zM1192 448h1v1h-1zM1066 449h1v1h-1zM1191 449h1v1h-1zM1067 450h1v1h-1zM1190 450h1v1h-1zM1068 451h1v1h-1zM1069 452h1v1h-1zM1070 453h1v1h-1zM1188 453h1v1h-1zM1071 454h2v1h-2zM1187 454h1v1h-1zM1073 455h1v1h-1zM1186 455h1v1h-1zM1074 456h1v1h-1zM1075 457h1v1h-1zM1076 458h1v1h-1zM1184 458h1v1h-1zM1077 459h1v1h-1zM1183 459h1v1h-1zM1078 460h1v1h-1zM1182 460h1v1h-1zM1079 461h2v1h-2zM1181 461h1v1h-1zM1081 462h1v1h-1zM1180 462h1v1h-1zM1082 463h1v1h-1zM1179 463h1v1h-1zM1083 464h1v1h-1zM1177 464h2v1h-2zM1084 465h2v1h-2zM1176 465h1v1h-1zM1086 466h2v1h-2zM1175 466h1v1h-1zM1088 467h2v1h-2zM1174 467h1v1h-1zM1090 468h1v1h-1zM1173 468h1v1h-1zM1091 469h2v1h-2zM1172 469h1v1h-1zM1093 470h2v1h-2zM1171 470h1v1h-1zM1095 471h2v1h-2zM1169 471h2v1h-2zM1097 472h2v1h-2zM1167 472h2v1h-2zM1099 473h2v1h-2zM1165 473h2v1h-2zM1101 474h2v1h-2zM1163 474h2v1h-2zM1103 475h3v1h-3zM1161 475h2v1h-2zM1106 476h3v1h-3zM1160 476h1v1h-1zM1109 477h2v1h-2zM1158 477h2v1h-2zM1111 478h3v1h-3zM1156 478h2v1h-2zM1114 479h2v1h-2zM1154 479h2v1h-2zM1116 480h2v1h-2zM1152 480h2v1h-2zM1118 481h2v1h-2zM1150 481h2v1h-2zM1120 482h2v1h-2zM1148 482h2v1h-2zM1122 483h2v1h-2zM1146 483h2v1h-2zM1124 484h2v1h-2zM1144 484h2v1h-2zM1126 485h2v1h-2zM1142 485h2v1h-2zM1128 486h6v1h-6zM1140 486h2v1h-2zM1134 487h6v1h-6z" fill="#3CB371" shape-rendering="crispEdges"/>
<path d="M22 322h1v2h-1zM25 326h1v2h-1zM27 329h1v2h-1zM30 333h1v2h-1zM34 338h1v2h-1zM102 330h1v2h-1zM103 332h1v2h-1zM104 334h1v2h-1zM105 336h1v2h-1zM106 338h1v2h-1zM107 340h1v2h-1zM108 342h1v2h-1zM166 357h1v2h-1zM169 361h1v2h-1zM173 366h1v2h-1zM201 359h1v2h-1zM204 355h1v2h-1zM207 351h1v2h-1zM225 347h1v2h-1zM227 350h1v2h-1zM228 352h1v2h-1zM229 354h1v2h-1zM270 385h1v2h-1zM271 387h1v3h-1zM272 390h1v2h-1zM273 392h1v2h-1zM274 394h1v2h-1zM276 397h1v2h-1zM279 401h1v2h-1zM281 404h1v2h-1zM283 407h1v2h-1zM284 409h1v2h-1zM293 419h1v2h-1zM296 423h1v2h-1zM299 427h1v2h-1zM316 426h1v2h-1zM318 423h1v2h-1zM322 418h1v2h-1zM499 384h1v2h-1zM500 382h1v2h-1zM501 380h1v2h-1zM502 378h1v2h-1zM503 376h1v2h-1zM504 374h1v2h-1zM505 372h1v2h-1zM506 370h1v2h-1zM507 368h1v2h-1zM588 310h1v2h-1zM591 306h1v2h-1zM593 303h1v2h-1zM595 300h1v2h-1zM598 296h1v2h-1zM600 293h1v2h-1zM642 297h1v2h-1zM645 301h1v2h-1zM648 305h1v2h-1zM651 309h1v2h-1zM654 313h1v2h-1zM655 315h1v2h-1zM656 317h1v2h-1zM657 319h1v2h-1zM658 321h1v3h-1zM659 324h1v2h-1zM660 326h1v3h-1zM661 329h1v2h-1zM662 331h1v2h-1zM663 333h1v3h-1zM664 336h1v2h-1zM665 338h1v3h-1zM666 341h1v2h-1zM667 343h1v2h-1zM668 345h1v3h-1zM669 348h1v2h-1zM670 350h1v2h-1zM671 352h1v2h-1zM672 354h1v2h-1zM673 356h1v2h-1zM674 358h1v2h-1zM675 360h1v3h-1zM676 363h1v2h-1zM677 365h1v2h-1zM678 367h1v2h-1zM679 369h1v2h-1zM680 371h1v2h-1zM681 373h1v2h-1zM682 375h1v2h-1zM683 377h1v2h-1zM684 379h1v2h-1zM685 381h1v2h-1zM686 383h1v2h-1zM687 385h1v2h-1zM688 387h1v2h-1zM689 389h1v2h-1zM690 391h1v2h-1zM691 393h1v2h-1zM692 395h1v2h-1zM693 397h1v2h-1zM694 399h1v2h-1zM695 401h1v2h-1zM696 403h1v2h-1zM697 405h1v2h-1zM698 407h1v2h-1zM699 409h1v2h-1zM700 411h1v2h-1zM703 415h1v2h-1zM705 418h1v2h-1zM708 422h1v2h-1zM710 425h1v2h-1zM712 428h1v2h-1zM715 432h1v2h-1zM866 414h1v2h-1zM875 404h1v2h-1zM926 407h1v2h-1zM931 413h1v2h-1zM980 452h1v2h-1zM981 454h1v4h-1zM982 458h1v4h-1zM983 462h1v4h-1zM984 466h1v4h-1zM985 470h1v4h-1zM986 474h1v3h-1zM987 477h1v3h-1zM988 480h1v3h-1zM989 483h1v3h-1zM990 486h1v3h-1zM991 489h1v3h-1zM992 492h1v2h-1zM993 494h1v2h-1zM994 496h1v2h-1zM995 498h1v2h-1zM996 500h1v2h-1zM997 502h1v2h-1zM998 504h1v2h-1zM999 506h1v2h-1zM1000 508h1v2h-1zM1026 527h1v2h-1zM1027 529h1v2h-1zM1029 532h1v2h-1zM1030 534h1v2h-1zM1031 536h1v2h-1zM1033 539h1v2h-1zM1034 541h1v2h-1zM1038 546h1v2h-1zM1043 552h1v2h-1zM1166 553h1v2h-1zM1170 558h1v2h-1zM1256 556h1v2h-1zM1261 559h1v2h-1zM1262 557h1v2h-1zM1264 554h1v2h-1zM1265 552h1v2h-1zM1266 550h1v2h-1zM1267 548h1v2h-1zM1268 546h1v2h-1zM1269 543h1v3h-1zM1270 541h1v2h-1zM1271 538h1v3h-1zM1272 535h1v3h-1zM1273 532h1v3h-1zM1274 530h1v2h-1zM1275 527h1v3h-1zM1276 524h1v3h-1zM1277 521h1v3h-1zM1278 518h1v3h-1zM1279 515h1v3h-1zM1280 511h1v4h-1zM1281 508h1v3h-1zM1282 505h1v3h-1zM1283 502h1v3h-1zM1284 498h1v4h-1zM1285 495h1v3h-1zM1286 492h1v3h-1zM1287 489h1v3h-1zM1288 485h1v4h-1zM1289 482h1v3h-1zM1290 479h1v3h-1zM1291 477h1v2h-1zM1292 474h1v3h-1zM1293 472h1v2h-1zM1294 470h1v2h-1zM1295 467h1v3h-1zM1296 465h1v2h-1zM1297 462h1v3h-1zM1298 460h1v2h-1zM1299 457h1v3h-1zM1300 455h1v2h-1zM1301 453h1v2h-1zM1302 450h1v3h-1zM1303 448h1v2h-1zM1304 445h1v3h-1zM1305 442h1v3h-1zM1306 439h1v3h-1zM1307 436h1v3h-1zM1308 433h1v3h-1zM1309 431h1v2h-1zM1310 428h1v3h-1zM1311 425h1v3h-1zM1312 422h1v3h-1zM1313 419h1v3h-1zM1314 416h1v3h-1zM1315 414h1v2h-1zM1316 412h1v2h-1zM1318 409h1v2h-1zM1319 407h1v2h-1zM1321 404h1v2h-1zM1323 401h1v2h-1zM1324 399h1v2h-1zM1366 429h1v2h-1zM1367 431h1v2h-1zM1368 433h1v2h-1zM1369 435h1v2h-1zM1370 437h1v2h-1zM1371 439h1v2h-1zM1372 441h1v2h-1zM1373 443h1v4h-1zM1374 447h1v4h-1zM1375 451h1v4h-1zM1376 455h1v5h-1zM1377 460h1v4h-1zM1378 464h1v4h-1zM1379 468h1v4h-1zM1380 472h1v4h-1zM1381 476h1v4h-1zM1382 480h1v4h-1zM1383 484h1v4h-1zM1384 488h1v4h-1zM1385 492h1v3h-1zM1386 495h1v3h-1zM1387 498h1v4h-1zM1388 502h1v3h-1zM1389 505h1v4h-1zM1390 509h1v3h-1zM1391 512h1v3h-1zM1392 515h1v3h-1zM1393 518h1v2h-1zM1394 520h1v3h-1zM1395 523h1v3h-1zM1396 526h1v3h-1zM1397 529h1v2h-1zM611 285h2v1h-2zM609 286h2v1h-2zM613 286h4v1h-4zM608 287h1v1h-1zM617 287h4v1h-4zM606 288h2v1h-2zM621 288h4v1h-4zM605 289h1v1h-1zM625 289h3v1h-3zM604 290h1v1h-1zM628 290h2v1h-2zM602 291h2v1h-2zM630 291h2v1h-2zM601 292h1v1h-1zM632 292h2v1h-2zM634 293h2v1h-2zM636 294h2v1h-2zM599 295h1v1h-1zM638 295h2v1h-2zM640 296h2v1h-2zM597 298h1v1h-1zM596 299h1v1h-1zM643 299h1v1h-1zM644 300h1v1h-1zM594 302h1v1h-1zM646 303h1v1h-1zM647 304h1v1h-1zM0 305h1v1h-1zM592 305h1v1h-1zM1 306h2v1h-2zM3 307h2v1h-2zM649 307h1v1h-1zM5 308h1v1h-1zM590 308h1v1h-1zM650 308h1v1h-1zM6 309h1v1h-1zM589 309h1v1h-1zM7 310h1v1h-1zM8 311h1v1h-1zM652 311h1v1h-1zM9 312h1v1h-1zM587 312h1v1h-1zM653 312h1v1h-1zM10 313h1v1h-1zM586 313h1v1h-1zM11 314h1v1h-1zM585 314h1v1h-1zM12 315h1v1h-1zM583 315h2v1h-2zM13 316h2v1h-2zM582 316h1v1h-1zM15 317h1v1h-1zM581 317h1v1h-1zM16 318h2v1h-2zM580 318h1v1h-1zM18 319h2v1h-2zM579 319h1v1h-1zM20 320h1v1h-1zM68 320h11v1h-11zM578 320h1v1h-1zM21 321h1v1h-1zM66 321h2v1h-2zM79 321h2v1h-2zM577 321h1v1h-1zM64 322h2v1h-2zM81 322h2v1h-2zM575 322h2v1h-2zM63 323h1v1h-1zM83 323h6v1h-6zM574 323h1v1h-1zM23 324h1v1h-1zM61 324h2v1h-2zM89 324h5v1h-5zM573 324h1v1h-1zM24 325h1v1h-1zM60 325h1v1h-1zM94 325h2v1h-2zM571 325h2v1h-2zM59 326h1v1h-1zM96 326h2v1h-2zM569 326h2v1h-2zM58 327h1v1h-1zM98 327h2v1h-2zM567 327h2v1h-2zM26 328h1v1h-1zM56 328h2v1h-2zM100 328h1v1h-1zM564 328h3v1h-3zM55 329h1v1h-1zM101 329h1v1h-1zM562 329h2v1h-2zM54 330h1v1h-1zM560 330h2v1h-2zM28 331h1v1h-1zM52 331h2v1h-2zM558 331h2v1h-2zM29 332h1v1h-1zM51 332h1v1h-1zM556 332h2v1h-2zM49 333h2v1h-2zM554 333h2v1h-2zM48 334h1v1h-1zM553 334h1v1h-1zM31 335h1v1h-1zM46 335h2v1h-2zM552 335h1v1h-1zM32 336h1v1h-1zM45 336h1v1h-1zM550 336h2v1h-2zM33 337h1v1h-1zM43 337h2v1h-2zM549 337h1v1h-1zM41 338h2v1h-2zM547 338h2v1h-2zM39 339h2v1h-2zM123 339h3v1h-3zM546 339h1v1h-1zM35 340h1v1h-1zM37 340h2v1h-2zM121 340h2v1h-2zM126 340h2v1h-2zM544 340h2v1h-2zM36 341h1v1h-1zM119 341h2v1h-2zM128 341h3v1h-3zM543 341h1v1h-1zM117 342h2v1h-2zM131 342h2v1h-2zM542 342h1v1h-1zM109 343h8v1h-8zM133 343h2v1h-2zM217 343h3v1h-3zM540 343h2v1h-2zM135 344h1v1h-1zM215 344h2v1h-2zM220 344h2v1h-2zM539 344h1v1h-1zM136 345h2v1h-2zM213 345h2v1h-2zM222 345h2v1h-2zM537 345h2v1h-2zM138 346h1v1h-1zM212 346h1v1h-1zM224 346h1v1h-1zM536 346h1v1h-1zM139 347h2v1h-2zM211 347h1v1h-1zM534 347h2v1h-2zM141 348h1v1h-1zM210 348h1v1h-1zM533 348h1v1h-1zM142 349h2v1h-2zM209 349h1v1h-1zM226 349h1v1h-1zM531 349h2v1h-2zM144 350h1v1h-1zM208 350h1v1h-1zM529 350h2v1h-2zM145 351h2v1h-2zM528 351h1v1h-1zM147 352h2v1h-2zM526 352h2v1h-2zM149 353h2v1h-2zM206 353h1v1h-1zM525 353h1v1h-1zM151 354h3v1h-3zM205 354h1v1h-1zM523 354h2v1h-2zM154 355h9v1h-9zM522 355h1v1h-1zM163 356h3v1h-3zM230 356h1v1h-1zM521 356h1v1h-1zM203 357h1v1h-1zM231 357h1v1h-1zM520 357h1v1h-1zM202 358h1v1h-1zM232 358h1v1h-1zM518 358h2v1h-2zM167 359h1v1h-1zM233 359h1v1h-1zM517 359h1v1h-1zM168 360h1v1h-1zM234 360h1v1h-1zM516 360h1v1h-1zM200 361h1v1h-1zM235 361h1v1h-1zM515 361h1v1h-1zM199 362h1v1h-1zM236 362h1v1h-1zM514 362h1v1h-1zM170 363h1v1h-1zM198 363h1v1h-1zM237 363h1v1h-1zM513 363h1v1h-1zM171 364h1v1h-1zM197 364h1v1h-1zM238 364h1v1h-1zM511 364h2v1h-2zM172 365h1v1h-1zM196 365h1v1h-1zM239 365h1v1h-1zM510 365h1v1h-1zM195 366h1v1h-1zM240 366h1v1h-1zM509 366h1v1h-1zM194 367h1v1h-1zM241 367h1v1h-1zM508 367h1v1h-1zM174 368h1v1h-1zM193 368h1v1h-1zM242 368h2v1h-2zM175 369h1v1h-1zM192 369h1v1h-1zM244 369h1v1h-1zM176 370h1v1h-1zM190 370h2v1h-2zM245 370h1v1h-1zM177 371h2v1h-2zM189 371h1v1h-1zM246 371h1v1h-1zM179 372h1v1h-1zM182 372h7v1h-7zM247 372h1v1h-1zM180 373h2v1h-2zM248 373h1v1h-1zM249 374h1v1h-1zM250 375h2v1h-2zM252 376h1v1h-1zM253 377h1v1h-1zM254 378h1v1h-1zM255 379h1v1h-1zM256 380h1v1h-1zM257 381h2v1h-2zM259 382h1v1h-1zM260 383h5v1h-5zM265 384h5v1h-5zM498 386h1v1h-1zM497 387h1v1h-1zM495 388h2v1h-2zM494 389h1v1h-1zM892 389h1v1h-1zM493 390h1v1h-1zM891 390h1v1h-1zM893 390h2v1h-2zM491 391h2v1h-2zM890 391h1v1h-1zM895 391h1v1h-1zM490 392h1v1h-1zM888 392h2v1h-2zM896 392h2v1h-2zM489 393h1v1h-1zM887 393h1v1h-1zM898 393h1v1h-1zM452 394h2v1h-2zM488 394h1v1h-1zM886 394h1v1h-1zM899 394h2v1h-2zM450 395h2v1h-2zM454 395h3v1h-3zM486 395h2v1h-2zM885 395h1v1h-1zM901 395h2v1h-2zM275 396h1v1h-1zM449 396h1v1h-1zM457 396h3v1h-3zM485 396h1v1h-1zM884 396h1v1h-1zM903 396h1v1h-1zM448 397h1v1h-1zM460 397h2v1h-2zM482 397h3v1h-3zM882 397h2v1h-2zM904 397h2v1h-2zM446 398h2v1h-2zM462 398h3v1h-3zM477 398h5v1h-5zM881 398h1v1h-1zM906 398h1v1h-1zM1325 398h1v1h-1zM277 399h1v1h-1zM445 399h1v1h-1zM465 399h3v1h-3zM472 399h5v1h-5zM880 399h1v1h-1zM907 399h2v1h-2zM1326 399h2v1h-2zM278 400h1v1h-1zM444 400h1v1h-1zM468 400h4v1h-4zM879 400h1v1h-1zM909 400h2v1h-2zM1328 400h2v1h-2zM442 401h2v1h-2zM878 401h1v1h-1zM911 401h4v1h-4zM1330 401h2v1h-2zM364 402h12v1h-12zM441 402h1v1h-1zM877 402h1v1h-1zM915 402h3v1h-3zM1332 402h2v1h-2zM280 403h1v1h-1zM362 403h2v1h-2zM376 403h5v1h-5zM440 403h1v1h-1zM876 403h1v1h-1zM918 403h4v1h-4zM1322 403h1v1h-1zM1334 403h2v1h-2zM360 404h2v1h-2zM381 404h6v1h-6zM438 404h2v1h-2zM922 404h2v1h-2zM1336 404h2v1h-2zM358 405h2v1h-2zM387 405h8v1h-8zM437 405h1v1h-1zM924 405h1v1h-1zM1338 405h1v1h-1zM282 406h1v1h-1zM356 406h2v1h-2zM395 406h7v1h-7zM435 406h2v1h-2zM874 406h1v1h-1zM925 406h1v1h-1zM1320 406h1v1h-1zM1339 406h2v1h-2zM354 407h2v1h-2zM402 407h3v1h-3zM434 407h1v1h-1zM873 407h1v1h-1zM1341 407h1v1h-1zM352 408h2v1h-2zM405 408h3v1h-3zM432 408h2v1h-2zM872 408h1v1h-1zM1342 408h1v1h-1zM350 409h2v1h-2zM408 409h3v1h-3zM431 409h1v1h-1zM871 409h1v1h-1zM927 409h1v1h-1zM1343 409h2v1h-2zM348 410h2v1h-2zM411 410h3v1h-3zM429 410h2v1h-2zM870 410h1v1h-1zM928 410h1v1h-1zM1345 410h1v1h-1zM285 411h1v1h-1zM346 411h2v1h-2zM414 411h15v1h-15zM869 411h1v1h-1zM929 411h1v1h-1zM1317 411h1v1h-1zM1346 411h1v1h-1zM286 412h1v1h-1zM344 412h2v1h-2zM868 412h1v1h-1zM930 412h1v1h-1zM1347 412h2v1h-2zM287 413h1v1h-1zM342 413h2v1h-2zM701 413h1v1h-1zM867 413h1v1h-1zM1349 413h1v1h-1zM288 414h1v1h-1zM340 414h2v1h-2zM702 414h1v1h-1zM1350 414h1v1h-1zM289 415h1v1h-1zM337 415h3v1h-3zM932 415h1v1h-1zM1351 415h1v1h-1zM290 416h1v1h-1zM324 416h13v1h-13zM865 416h1v1h-1zM933 416h1v1h-1zM1352 416h1v1h-1zM291 417h1v1h-1zM323 417h1v1h-1zM704 417h1v1h-1zM864 417h1v1h-1zM934 417h1v1h-1zM1353 417h1v1h-1zM292 418h1v1h-1zM863 418h1v1h-1zM935 418h1v1h-1zM1354 418h1v1h-1zM862 419h1v1h-1zM936 419h1v1h-1zM1355 419h1v1h-1zM321 420h1v1h-1zM706 420h1v1h-1zM860 420h2v1h-2zM937 420h2v1h-2zM1356 420h1v1h-1zM294 421h1v1h-1zM320 421h1v1h-1zM707 421h1v1h-1zM859 421h1v1h-1zM939 421h1v1h-1zM1357 421h1v1h-1zM295 422h1v1h-1zM319 422h1v1h-1zM857 422h2v1h-2zM940 422h1v1h-1zM1358 422h1v1h-1zM856 423h1v1h-1zM941 423h1v1h-1zM1359 423h1v1h-1zM709 424h1v1h-1zM804 424h29v1h-29zM854 424h2v1h-2zM942 424h1v1h-1zM1360 424h1v1h-1zM297 425h1v1h-1zM317 425h1v1h-1zM802 425h2v1h-2zM833 425h2v1h-2zM852 425h2v1h-2zM943 425h2v1h-2zM1361 425h1v1h-1zM298 426h1v1h-1zM800 426h2v1h-2zM835 426h2v1h-2zM851 426h1v1h-1zM945 426h1v1h-1zM1362 426h2v1h-2zM711 427h1v1h-1zM798 427h2v1h-2zM837 427h3v1h-3zM849 427h2v1h-2zM946 427h1v1h-1zM1364 427h1v1h-1zM312 428h4v1h-4zM796 428h2v1h-2zM840 428h2v1h-2zM848 428h1v1h-1zM947 428h2v1h-2zM1365 428h1v1h-1zM300 429h12v1h-12zM794 429h2v1h-2zM842 429h2v1h-2zM846 429h2v1h-2zM949 429h2v1h-2zM713 430h1v1h-1zM793 430h1v1h-1zM844 430h2v1h-2zM951 430h1v1h-1zM714 431h1v1h-1zM791 431h2v1h-2zM952 431h2v1h-2zM789 432h2v1h-2zM954 432h2v1h-2zM787 433h2v1h-2zM956 433h2v1h-2zM716 434h1v1h-1zM785 434h2v1h-2zM958 434h1v1h-1zM717 435h1v1h-1zM782 435h3v1h-3zM959 435h2v1h-2zM718 436h1v1h-1zM778 436h4v1h-4zM961 436h2v1h-2zM719 437h1v1h-1zM774 437h4v1h-4zM963 437h1v1h-1zM720 438h1v1h-1zM770 438h4v1h-4zM964 438h1v1h-1zM721 439h1v1h-1zM766 439h4v1h-4zM965 439h1v1h-1zM722 440h1v1h-1zM763 440h3v1h-3zM966 440h1v1h-1zM723 441h1v1h-1zM761 441h2v1h-2zM967 441h2v1h-2zM724 442h1v1h-1zM759 442h2v1h-2zM969 442h1v1h-1zM725 443h1v1h-1zM758 443h1v1h-1zM970 443h1v1h-1zM726 444h1v1h-1zM756 444h2v1h-2zM971 444h1v1h-1zM727 445h1v1h-1zM754 445h2v1h-2zM972 445h1v1h-1zM728 446h1v1h-1zM752 446h2v1h-2zM973 446h1v1h-1zM729 447h1v1h-1zM751 447h1v1h-1zM974 447h1v1h-1zM730 448h1v1h-1zM749 448h2v1h-2zM975 448h2v1h-2zM731 449h1v1h-1zM747 449h2v1h-2zM977 449h1v1h-1zM732 450h1v1h-1zM740 450h7v1h-7zM978 450h1v1h-1zM733 451h7v1h-7zM979 451h1v1h-1zM1001 510h2v1h-2zM1003 511h2v1h-2zM1005 512h1v1h-1zM1006 513h2v1h-2zM1008 514h1v1h-1zM1009 515h2v1h-2zM1011 516h2v1h-2zM1013 517h1v1h-1zM1014 518h1v1h-1zM1015 519h2v1h-2zM1017 520h1v1h-1zM1018 521h1v1h-1zM1019 522h2v1h-2zM1021 523h1v1h-1zM1022 524h1v1h-1zM1023 525h2v1h-2zM1025 526h1v1h-1zM1028 531h1v1h-1zM1032 538h1v1h-1zM1035 543h1v1h-1zM1036 544h1v1h-1zM1139 544h4v1h-4zM1037 545h1v1h-1zM1137 545h2v1h-2zM1143 545h5v1h-5zM1135 546h2v1h-2zM1148 546h4v1h-4zM1132 547h3v1h-3zM1152 547h3v1h-3zM1039 548h1v1h-1zM1130 548h2v1h-2zM1155 548h4v1h-4zM1040 549h1v1h-1zM1128 549h2v1h-2zM1159 549h2v1h-2zM1041 550h1v1h-1zM1125 550h3v1h-3zM1161 550h2v1h-2zM1236 550h1v1h-1zM1042 551h1v1h-1zM1123 551h2v1h-2zM1163 551h2v1h-2zM1235 551h1v1h-1zM1237 551h2v1h-2zM1251 551h1v1h-1zM1121 552h2v1h-2zM1165 552h1v1h-1zM1234 552h1v1h-1zM1239 552h1v1h-1zM1249 552h2v1h-2zM1252 552h1v1h-1zM1118 553h3v1h-3zM1233 553h1v1h-1zM1240 553h2v1h-2zM1247 553h2v1h-2zM1253 553h1v1h-1zM1044 554h1v1h-1zM1116 554h2v1h-2zM1232 554h1v1h-1zM1242 554h2v1h-2zM1245 554h2v1h-2zM1254 554h1v1h-1zM1045 555h1v1h-1zM1114 555h2v1h-2zM1167 555h1v1h-1zM1231 555h1v1h-1zM1244 555h1v1h-1zM1255 555h1v1h-1zM1046 556h1v1h-1zM1112 556h2v1h-2zM1168 556h1v1h-1zM1230 556h1v1h-1zM1263 556h1v1h-1zM1047 557h2v1h-2zM1109 557h3v1h-3zM1169 557h1v1h-1zM1229 557h1v1h-1zM1049 558h1v1h-1zM1107 558h2v1h-2zM1217 558h12v1h-12zM1257 558h1v1h-1zM1050 559h1v1h-1zM1105 559h2v1h-2zM1214 559h3v1h-3zM1258 559h1v1h-1zM1051 560h1v1h-1zM1103 560h2v1h-2zM1171 560h1v1h-1zM1212 560h2v1h-2zM1259 560h1v1h-1zM1052 561h2v1h-2zM1101 561h2v1h-2zM1172 561h1v1h-1zM1210 561h2v1h-2zM1260 561h1v1h-1zM1054 562h1v1h-1zM1095 562h6v1h-6zM1173 562h1v1h-1zM1209 562h1v1h-1zM1055 563h2v1h-2zM1087 563h8v1h-8zM1174 563h1v1h-1zM1207 563h2v1h-2zM1057 564h2v1h-2zM1082 564h5v1h-5zM1175 564h1v1h-1zM1205 564h2v1h-2zM1059 565h2v1h-2zM1080 565h2v1h-2zM1176 565h2v1h-2zM1202 565h3v1h-3zM1061 566h3v1h-3zM1078 566h2v1h-2zM1178 566h1v1h-1zM1199 566h3v1h-3zM1064 567h2v1h-2zM1076 567h2v1h-2zM1179 567h1v1h-1zM1196 567h3v1h-3zM1066 568h10v1h-10zM1180 568h1v1h-1zM1194 568h2v1h-2zM1181 569h2v1h-2zM1193 569h1v1h-1zM1183 570h1v1h-1zM1191 570h2v1h-2zM1184 571h2v1h-2zM1190 571h1v1h-1zM1186 572h2v1h-2zM1189 572h1v1h-1zM1188 573h1v1h-1z" fill="#3CB371" shape-rendering="crispEdges"/>
<g shape-rendering="crispEdges">
<rect x="4" y="160" width="1" height="24" fill="#000" />
<rect x="2" y="172" width="5" height="10" fill="#000" />
<rect x="3" y="173" width="3" height="8" fill="#fff" />
<rect x="12" y="135" width="1" height="39" fill="#000" />
<rect x="10" y="135" width="5" height="37" fill="#000" />
<rect x="11" y="136" width="3" height="35" fill="#fff" />
<rect x="20" y="122" width="1" height="44" fill="#000" />
<rect x="18" y="136" width="5" height="2" fill="#000" />
<rect x="28" y="100" width="1" height="45" fill="#000" />
<rect x="26" y="100" width="5" height="38" fill="#000" />
<rect x="27" y="101" width="3" height="36" fill="#fff" />
<rect x="60" y="100" width="1" height="23" fill="#000" />
<rect x="58" y="100" width="5" height="20" fill="#000" />
<rect x="68" y="105" width="1" height="119" fill="#000" />
<rect x="66" y="119" width="5" height="90" fill="#000" />
<rect x="76" y="203" width="1" height="66" fill="#000" />
<rect x="74" y="208" width="5" height="52" fill="#000" />
<rect x="84" y="255" width="1" height="37" fill="#000" />
<rect x="82" y="259" width="5" height="16" fill="#000" />
<rect x="92" y="271" width="1" height="17" fill="#000" />
<rect x="90" y="274" width="5" height="3" fill="#000" />
<rect x="100" y="270" width="1" height="23" fill="#000" />
<rect x="98" y="274" width="5" height="3" fill="#000" />
<rect x="99" y="275" width="3" height="1" fill="#fff" />
<rect x="108" y="248" width="1" height="88" fill="#000" />
<rect x="106" y="273" width="5" height="59" fill="#000" />
<rect x="116" y="245" width="1" height="87" fill="#000" />
<rect x="114" y="258" width="5" height="74" fill="#000" />
<rect x="115" y="259" width="3" height="72" fill="#fff" />
<rect x="124" y="223" width="1" height="42" fill="#000" />
<rect x="122" y="245" width="5" height="14" fill="#000" />
<rect x="123" y="246" width="3" height="12" fill="#fff" />
<rect x="132" y="225" width="1" height="28" fill="#000" />
<rect x="130" y="233" width="5" height="13" fill="#000" />
<rect x="131" y="234" width="3" height="11" fill="#fff" />
<rect x="140" y="232" width="1" height="13" fill="#000" />
<rect x="138" y="233" width="5" height="8" fill="#000" />
<rect x="148" y="237" width="1" height="23" fill="#000" />
<rect x="146" y="240" width="5" height="10" fill="#000" />
<rect x="156" y="232" width="1" height="32" fill="#000" />
<rect x="154" y="233" width="5" height="17" fill="#000" />
<rect x="155" y="234" width="3" height="15" fill="#fff" />
<rect x="164" y="198" width="1" height="39" fill="#000" />
<rect x="162" y="208" width="5" height="26" fill="#000" />
<rect x="163" y="209" width="3" height="24" fill="#fff" />
<rect x="172" y="208" width="1" height="112" fill="#000" />
<rect x="170" y="208" width="5" height="83" fill="#000" />
<rect x="180" y="262" width="1" height="32" fill="#000" />
<rect x="178" y="286" width="5" height="5" fill="#000" />
<rect x="179" y="287" width="3" height="3" fill="#fff" />
<rect x="188" y="272" width="1" height="17" fill="#000" />
<rect x="186" y="277" width="5" height="9" fill="#000" />
<rect x="187" y="278" width="3" height="7" fill="#fff" />
<rect x="196" y="275" width="1" height="17" fill="#000" />
<rect x="194" y="277" width="5" height="12" fill="#000" />
<rect x="204" y="276" width="1" height="27" fill="#000" />
<rect x="202" y="288" width="5" height="5" fill="#000" />
<rect x="212" y="274" width="1" height="50" fill="#000" />
<rect x="210" y="292" width="5" height="21" fill="#000" />
<rect x="220" y="295" width="1" height="61" fill="#000" />
<rect x="218" y="312" width="5" height="39" fill="#000" />
<rect x="228" y="334" width="1" height="24" fill="#000" />
<rect x="226" y="349" width="5" height="7" fill="#000" />
<rect x="236" y="345" width="1" height="11" fill="#000" />
<rect x="234" y="347" width="5" height="9" fill="#000" />
<rect x="235" y="348" width="3" height="7" fill="#fff" />
<rect x="244" y="332" width="1" height="20" fill="#000" />
<rect x="242" y="339" width="5" height="10" fill="#000" />
<rect x="243" y="340" width="3" height="8" fill="#fff" />
<rect x="252" y="330" width="1" height="16" fill="#000" />
<rect x="250" y="339" width="5" height="5" fill="#000" />
<rect x="260" y="332" width="1" height="26" fill="#000" />
<rect x="258" y="344" width="5" height="3" fill="#000" />
<rect x="268" y="316" width="1" height="40" fill="#000" />
<rect x="266" y="337" width="5" height="10" fill="#000" />
<rect x="267" y="338" width="3" height="8" fill="#fff" />
<rect x="276" y="336" width="1" height="59" fill="#000" />
<rect x="274" y="338" width="5" height="57" fill="#000" />
<rect x="284" y="388" width="1" height="9" fill="#000" />
<rect x="282" y="391" width="5" height="3" fill="#000" />
<rect x="283" y="392" width="3" height="1" fill="#fff" />
<rect x="292" y="377" width="1" height="17" fill="#000" />
<rect x="290" y="383" width="5" height="8" fill="#000" />
<rect x="291" y="384" width="3" height="6" fill="#fff" />
<rect x="300" y="370" width="1" height="40" fill="#000" />
<rect x="298" y="384" width="5" height="24" fill="#000" />
<rect x="308" y="340" width="1" height="70" fill="#000" />
<rect x="306" y="354" width="5" height="56" fill="#000" />
<rect x="307" y="355" width="3" height="54" fill="#fff" />
<rect x="316" y="330" width="1" height="34" fill="#000" />
<rect x="314" y="354" width="5" height="1" fill="#000" />
<rect x="324" y="352" width="1" height="20" fill="#000" />
<rect x="322" y="355" width="5" height="9" fill="#000" />
<rect x="332" y="362" width="1" height="10" fill="#000" />
<rect x="330" y="363" width="5" height="1" fill="#000" />
<rect x="340" y="356" width="1" height="13" fill="#000" />
<rect x="338" y="361" width="5" height="4" fill="#000" />
<rect x="339" y="362" width="3" height="2" fill="#fff" />
<rect x="348" y="360" width="1" height="24" fill="#000" />
<rect x="346" y="361" width="5" height="12" fill="#000" />
<rect x="356" y="335" width="1" height="51" fill="#000" />
<rect x="354" y="347" width="5" height="26" fill="#000" />
<rect x="355" y="348" width="3" height="24" fill="#fff" />
<rect x="364" y="307" width="1" height="51" fill="#000" />
<rect x="362" y="331" width="5" height="17" fill="#000" />
<rect x="363" y="332" width="3" height="15" fill="#fff" />
<rect x="372" y="308" width="1" height="35" fill="#000" />
<rect x="370" y="312" width="5" height="20" fill="#000" />
<rect x="371" y="313" width="3" height="18" fill="#fff" />
<rect x="380" y="313" width="1" height="13" fill="#000" />
<rect x="378" y="313" width="5" height="8" fill="#000" />
<rect x="388" y="305" width="1" height="19" fill="#000" />
<rect x="386" y="316" width="5" height="5" fill="#000" />
<rect x="387" y="317" width="3" height="3" fill="#fff" />
<rect x="396" y="305" width="1" height="20" fill="#000" />
<rect x="394" y="309" width="5" height="8" fill="#000" />
<rect x="395" y="310" width="3" height="6" fill="#fff" />
<rect x="404" y="284" width="1" height="33" fill="#000" />
<rect x="402" y="291" width="5" height="19" fill="#000" />
<rect x="403" y="292" width="3" height="17" fill="#fff" />
<rect x="412" y="282" width="1" height="41" fill="#000" />
<rect x="410" y="290" width="5" height="11" fill="#000" />
<rect x="420" y="294" width="1" height="24" fill="#000" />
<rect x="418" y="300" width="5" height="17" fill="#000" />
<rect x="428" y="313" width="1" height="12" fill="#000" />
<rect x="426" y="316" width="5" height="3" fill="#000" />
<rect x="436" y="310" width="1" height="14" fill="#000" />
<rect x="434" y="318" width="5" height="5" fill="#000" />
<rect x="444" y="295" width="1" height="38" fill="#000" />
<rect x="442" y="296" width="5" height="27" fill="#000" />
<rect x="443" y="297" width="3" height="25" fill="#fff" />
<rect x="452" y="284" width="1" height="37" fill="#000" />
<rect x="450" y="289" width="5" height="8" fill="#000" />
<rect x="451" y="290" width="3" height="6" fill="#fff" />
<rect x="460" y="198" width="1" height="97" fill="#000" />
<rect x="458" y="213" width="5" height="76" fill="#000" />
<rect x="459" y="214" width="3" height="74" fill="#fff" />
<rect x="468" y="205" width="1" height="22" fill="#000" />
<rect x="466" y="213" width="5" height="2" fill="#000" />
<rect x="476" y="215" width="1" height="16" fill="#000" />
<rect x="474" y="215" width="5" height="10" fill="#000" />
<rect x="484" y="219" width="1" height="12" fill="#000" />
<rect x="482" y="224" width="5" height="5" fill="#000" />
<rect x="492" y="208" width="1" height="22" fill="#000" />
<rect x="490" y="211" width="5" height="18" fill="#000" />
<rect x="491" y="212" width="3" height="16" fill="#fff" />
<rect x="500" y="204" width="1" height="49" fill="#000" />
<rect x="498" y="211" width="5" height="30" fill="#000" />
<rect x="508" y="234" width="1" height="38" fill="#000" />
<rect x="506" y="239" width="5" height="18" fill="#000" />
<rect x="516" y="221" width="1" height="42" fill="#000" />
<rect x="514" y="238" width="5" height="19" fill="#000" />
<rect x="515" y="239" width="3" height="17" fill="#fff" />
<rect x="524" y="214" width="1" height="14" fill="#000" />
<rect x="522" y="218" width="5" height="7" fill="#000" />
<rect x="523" y="219" width="3" height="5" fill="#fff" />
<rect x="532" y="218" width="1" height="12" fill="#000" />
<rect x="530" y="218" width="5" height="7" fill="#000" />
<rect x="540" y="218" width="1" height="24" fill="#000" />
<rect x="538" y="224" width="5" height="10" fill="#000" />
<rect x="548" y="217" width="1" height="46" fill="#000" />
<rect x="546" y="233" width="5" height="23" fill="#000" />
<rect x="556" y="251" width="1" height="19" fill="#000" />
<rect x="554" y="255" width="5" height="11" fill="#000" />
<rect x="564" y="256" width="1" height="20" fill="#000" />
<rect x="562" y="265" width="5" height="8" fill="#000" />
<rect x="572" y="265" width="1" height="10" fill="#000" />
<rect x="570" y="266" width="5" height="7" fill="#000" />
<rect x="571" y="267" width="3" height="5" fill="#fff" />
<rect x="580" y="266" width="1" height="16" fill="#000" />
<rect x="578" y="267" width="5" height="3" fill="#000" />
<rect x="588" y="268" width="1" height="21" fill="#000" />
<rect x="586" y="269" width="5" height="6" fill="#000" />
<rect x="596" y="220" width="1" height="84" fill="#000" />
<rect x="594" y="229" width="5" height="47" fill="#000" />
<rect x="595" y="230" width="3" height="45" fill="#fff" />
<rect x="604" y="226" width="1" height="29" fill="#000" />
<rect x="602" y="228" width="5" height="7" fill="#000" />
<rect x="612" y="232" width="1" height="47" fill="#000" />
<rect x="610" y="234" width="5" height="41" fill="#000" />
<rect x="620" y="267" width="1" height="11" fill="#000" />
<rect x="618" y="274" width="5" height="1" fill="#000" />
<rect x="628" y="270" width="1" height="8" fill="#000" />
<rect x="626" y="273" width="5" height="2" fill="#000" />
<rect x="636" y="260" width="1" height="27" fill="#000" />
<rect x="634" y="266" width="5" height="9" fill="#000" />
<rect x="635" y="267" width="3" height="7" fill="#fff" />
<rect x="644" y="247" width="1" height="55" fill="#000" />
<rect x="642" y="266" width="5" height="21" fill="#000" />
<rect x="652" y="274" width="1" height="81" fill="#000" />
<rect x="650" y="286" width="5" height="40" fill="#000" />
<rect x="660" y="322" width="1" height="50" fill="#000" />
<rect x="658" y="325" width="5" height="35" fill="#000" />
<rect x="668" y="348" width="1" height="16" fill="#000" />
<rect x="666" y="352" width="5" height="8" fill="#000" />
<rect x="667" y="353" width="3" height="6" fill="#fff" />
<rect x="676" y="349" width="1" height="30" fill="#000" />
<rect x="674" y="352" width="5" height="20" fill="#000" />
<rect x="684" y="364" width="1" height="32" fill="#000" />
<rect x="682" y="371" width="5" height="10" fill="#000" />
<rect x="692" y="352" width="1" height="82" fill="#000" />
<rect x="690" y="380" width="5" height="32" fill="#000" />
<rect x="700" y="397" width="1" height="36" fill="#000" />
<rect x="698" y="401" width="5" height="11" fill="#000" />
<rect x="699" y="402" width="3" height="9" fill="#fff" />
<rect x="708" y="392" width="1" height="19" fill="#000" />
<rect x="706" y="400" width="5" height="1" fill="#000" />
<rect x="716" y="394" width="1" height="13" fill="#000" />
<rect x="714" y="400" width="5" height="1" fill="#000" />
<rect x="724" y="385" width="1" height="18" fill="#000" />
<rect x="722" y="386" width="5" height="15" fill="#000" />
<rect x="723" y="387" width="3" height="13" fill="#fff" />
<rect x="732" y="377" width="1" height="18" fill="#000" />
<rect x="730" y="386" width="5" height="6" fill="#000" />
<rect x="740" y="324" width="1" height="73" fill="#000" />
<rect x="738" y="329" width="5" height="63" fill="#000" />
<rect x="739" y="330" width="3" height="61" fill="#fff" />
<rect x="748" y="297" width="1" height="56" fill="#000" />
<rect x="746" y="312" width="5" height="18" fill="#000" />
<rect x="747" y="313" width="3" height="16" fill="#fff" />
<rect x="756" y="293" width="1" height="26" fill="#000" />
<rect x="754" y="301" width="5" height="12" fill="#000" />
<rect x="755" y="302" width="3" height="10" fill="#fff" />
<rect x="764" y="321" width="1" height="10" fill="#000" />
<rect x="762" y="324" width="5" height="6" fill="#000" />
<rect x="763" y="325" width="3" height="4" fill="#fff" />
<rect x="772" y="323" width="1" height="21" fill="#000" />
<rect x="770" y="325" width="5" height="18" fill="#000" />
<rect x="780" y="321" width="1" height="23" fill="#000" />
<rect x="778" y="335" width="5" height="9" fill="#000" />
<rect x="779" y="336" width="3" height="7" fill="#fff" />
<rect x="788" y="333" width="1" height="61" fill="#000" />
<rect x="786" y="333" width="5" height="43" fill="#000" />
<rect x="796" y="345" width="1" height="50" fill="#000" />
<rect x="794" y="354" width="5" height="23" fill="#000" />
<rect x="795" y="355" width="3" height="21" fill="#fff" />
<rect x="804" y="339" width="1" height="28" fill="#000" />
<rect x="802" y="354" width="5" height="12" fill="#000" />
<rect x="812" y="345" width="1" height="22" fill="#000" />
<rect x="810" y="354" width="5" height="12" fill="#000" />
<rect x="811" y="355" width="3" height="10" fill="#fff" />
<rect x="820" y="334" width="1" height="31" fill="#000" />
<rect x="818" y="338" width="5" height="16" fill="#000" />
<rect x="819" y="339" width="3" height="14" fill="#fff" />
<rect x="828" y="318" width="1" height="33" fill="#000" />
<rect x="826" y="321" width="5" height="18" fill="#000" />
<rect x="827" y="322" width="3" height="16" fill="#fff" />
<rect x="836" y="278" width="1" height="55" fill="#000" />
<rect x="834" y="309" width="5" height="13" fill="#000" />
<rect x="835" y="310" width="3" height="11" fill="#fff" />
<rect x="844" y="253" width="1" height="71" fill="#000" />
<rect x="842" y="255" width="5" height="55" fill="#000" />
<rect x="843" y="256" width="3" height="53" fill="#fff" />
<rect x="852" y="254" width="1" height="24" fill="#000" />
<rect x="850" y="256" width="5" height="18" fill="#000" />
<rect x="860" y="266" width="1" height="13" fill="#000" />
<rect x="858" y="270" width="5" height="3" fill="#000" />
<rect x="859" y="271" width="3" height="1" fill="#fff" />
<rect x="868" y="264" width="1" height="18" fill="#000" />
<rect x="866" y="271" width="5" height="10" fill="#000" />
<rect x="876" y="274" width="1" height="24" fill="#000" />
<rect x="874" y="281" width="5" height="8" fill="#000" />
<rect x="884" y="281" width="1" height="74" fill="#000" />
<rect x="882" y="288" width="5" height="56" fill="#000" />
<rect x="892" y="325" width="1" height="42" fill="#000" />
<rect x="890" y="343" width="5" height="20" fill="#000" />
<rect x="900" y="347" width="1" height="33" fill="#000" />
<rect x="898" y="361" width="5" height="8" fill="#000" />
<rect x="908" y="364" width="1" height="21" fill="#000" />
<rect x="906" y="367" width="5" height="7" fill="#000" />
<rect x="916" y="349" width="1" height="28" fill="#000" />
<rect x="914" y="354" width="5" height="19" fill="#000" />
<rect x="915" y="355" width="3" height="17" fill="#fff" />
<rect x="924" y="339" width="1" height="24" fill="#000" />
<rect x="922" y="354" width="5" height="3" fill="#000" />
<rect x="932" y="330" width="1" height="93" fill="#000" />
<rect x="930" y="357" width="5" height="55" fill="#000" />
<rect x="940" y="361" width="1" height="61" fill="#000" />
<rect x="938" y="409" width="5" height="3" fill="#000" />
<rect x="939" y="410" width="3" height="1" fill="#fff" />
<rect x="948" y="385" width="1" height="33" fill="#000" />
<rect x="946" y="387" width="5" height="23" fill="#000" />
<rect x="947" y="388" width="3" height="21" fill="#fff" />
<rect x="956" y="385" width="1" height="13" fill="#000" />
<rect x="954" y="387" width="5" height="7" fill="#000" />
<rect x="964" y="383" width="1" height="29" fill="#000" />
<rect x="962" y="392" width="5" height="16" fill="#000" />
<rect x="972" y="384" width="1" height="39" fill="#000" />
<rect x="970" y="407" width="5" height="13" fill="#000" />
<rect x="980" y="359" width="1" height="62" fill="#000" />
<rect x="978" y="397" width="5" height="23" fill="#000" />
<rect x="979" y="398" width="3" height="21" fill="#fff" />
<rect x="988" y="388" width="1" height="142" fill="#000" />
<rect x="986" y="397" width="5" height="120" fill="#000" />
<rect x="996" y="480" width="1" height="87" fill="#000" />
<rect x="994" y="495" width="5" height="21" fill="#000" />
<rect x="995" y="496" width="3" height="19" fill="#fff" />
<rect x="1004" y="476" width="1" height="19" fill="#000" />
<rect x="1002" y="481" width="5" height="8" fill="#000" />
<rect x="1003" y="482" width="3" height="6" fill="#fff" />
<rect x="1012" y="446" width="1" height="48" fill="#000" />
<rect x="1010" y="447" width="5" height="37" fill="#000" />
<rect x="1011" y="448" width="3" height="35" fill="#fff" />
<rect x="1020" y="432" width="1" height="49" fill="#000" />
<rect x="1018" y="450" width="5" height="30" fill="#000" />
<rect x="1028" y="475" width="1" height="63" fill="#000" />
<rect x="1026" y="480" width="5" height="26" fill="#000" />
<rect x="1036" y="495" width="1" height="56" fill="#000" />
<rect x="1034" y="504" width="5" height="41" fill="#000" />
<rect x="1044" y="460" width="1" height="89" fill="#000" />
<rect x="1042" y="512" width="5" height="32" fill="#000" />
<rect x="1043" y="513" width="3" height="30" fill="#fff" />
<rect x="1052" y="512" width="1" height="33" fill="#000" />
<rect x="1050" y="512" width="5" height="11" fill="#000" />
<rect x="1060" y="507" width="1" height="25" fill="#000" />
<rect x="1058" y="513" width="5" height="11" fill="#000" />
<rect x="1059" y="514" width="3" height="9" fill="#fff" />
<rect x="1068" y="482" width="1" height="33" fill="#000" />
<rect x="1066" y="488" width="5" height="26" fill="#000" />
<rect x="1067" y="489" width="3" height="24" fill="#fff" />
<rect x="1076" y="470" width="1" height="57" fill="#000" />
<rect x="1074" y="487" width="5" height="14" fill="#000" />
<rect x="1084" y="452" width="1" height="70" fill="#000" />
<rect x="1082" y="469" width="5" height="32" fill="#000" />
<rect x="1083" y="470" width="3" height="30" fill="#fff" />
<rect x="1092" y="439" width="1" height="54" fill="#000" />
<rect x="1090" y="468" width="5" height="7" fill="#000" />
<rect x="1100" y="454" width="1" height="28" fill="#000" />
<rect x="1098" y="465" width="5" height="11" fill="#000" />
<rect x="1099" y="466" width="3" height="9" fill="#fff" />
<rect x="1108" y="454" width="1" height="23" fill="#000" />
<rect x="1106" y="465" width="5" height="8" fill="#000" />
<rect x="1116" y="466" width="1" height="40" fill="#000" />
<rect x="1114" y="473" width="5" height="23" fill="#000" />
<rect x="1124" y="471" width="1" height="48" fill="#000" />
<rect x="1122" y="493" width="5" height="2" fill="#000" />
<rect x="1132" y="452" width="1" height="43" fill="#000" />
<rect x="1130" y="466" width="5" height="28" fill="#000" />
<rect x="1131" y="467" width="3" height="26" fill="#fff" />
<rect x="1140" y="409" width="1" height="78" fill="#000" />
<rect x="1138" y="414" width="5" height="52" fill="#000" />
<rect x="1139" y="415" width="3" height="50" fill="#fff" />
<rect x="1148" y="409" width="1" height="11" fill="#000" />
<rect x="1146" y="410" width="5" height="5" fill="#000" />
<rect x="1147" y="411" width="3" height="3" fill="#fff" />
<rect x="1156" y="406" width="1" height="16" fill="#000" />
<rect x="1154" y="411" width="5" height="2" fill="#000" />
<rect x="1164" y="391" width="1" height="24" fill="#000" />
<rect x="1162" y="407" width="5" height="6" fill="#000" />
<rect x="1163" y="408" width="3" height="4" fill="#fff" />
<rect x="1172" y="347" width="1" height="67" fill="#000" />
<rect x="1170" y="356" width="5" height="52" fill="#000" />
<rect x="1171" y="357" width="3" height="50" fill="#fff" />
<rect x="1180" y="340" width="1" height="40" fill="#000" />
<rect x="1178" y="351" width="5" height="5" fill="#000" />
<rect x="1179" y="352" width="3" height="3" fill="#fff" />
<rect x="1188" y="327" width="1" height="34" fill="#000" />
<rect x="1186" y="332" width="5" height="19" fill="#000" />
<rect x="1187" y="333" width="3" height="17" fill="#fff" />
<rect x="1196" y="306" width="1" height="32" fill="#000" />
<rect x="1194" y="327" width="5" height="6" fill="#000" />
<rect x="1195" y="328" width="3" height="4" fill="#fff" />
<rect x="1204" y="309" width="1" height="19" fill="#000" />
<rect x="1202" y="316" width="5" height="12" fill="#000" />
<rect x="1203" y="317" width="3" height="10" fill="#fff" />
<rect x="1212" y="297" width="1" height="31" fill="#000" />
<rect x="1210" y="299" width="5" height="18" fill="#000" />
<rect x="1211" y="300" width="3" height="16" fill="#fff" />
<rect x="1220" y="244" width="1" height="71" fill="#000" />
<rect x="1218" y="261" width="5" height="39" fill="#000" />
<rect x="1219" y="262" width="3" height="37" fill="#fff" />
<rect x="1228" y="220" width="1" height="67" fill="#000" />
<rect x="1226" y="241" width="5" height="21" fill="#000" />
<rect x="1227" y="242" width="3" height="19" fill="#fff" />
<rect x="1236" y="225" width="1" height="58" fill="#000" />
<rect x="1234" y="241" width="5" height="18" fill="#000" />
<rect x="1244" y="160" width="1" height="30" fill="#000" />
<rect x="1242" y="170" width="5" height="9" fill="#000" />
<rect x="1243" y="171" width="3" height="7" fill="#fff" />
<rect x="1252" y="140" width="1" height="68" fill="#000" />
<rect x="1250" y="170" width="5" height="20" fill="#000" />
<rect x="1260" y="59" width="1" height="178" fill="#000" />
<rect x="1258" y="69" width="5" height="121" fill="#000" />
<rect x="1259" y="70" width="3" height="119" fill="#fff" />
<rect x="1268" y="69" width="1" height="138" fill="#000" />
<rect x="1266" y="69" width="5" height="99" fill="#000" />
<rect x="1276" y="112" width="1" height="71" fill="#000" />
<rect x="1274" y="166" width="5" height="2" fill="#000" />
<rect x="1284" y="120" width="1" height="56" fill="#000" />
<rect x="1282" y="160" width="5" height="6" fill="#000" />
<rect x="1283" y="161" width="3" height="4" fill="#fff" />
<rect x="1292" y="141" width="1" height="56" fill="#000" />
<rect x="1290" y="161" width="5" height="35" fill="#000" />
<rect x="1300" y="178" width="1" height="52" fill="#000" />
<rect x="1298" y="194" width="5" height="15" fill="#000" />
<rect x="1308" y="194" width="1" height="62" fill="#000" />
<rect x="1306" y="202" width="5" height="7" fill="#000" />
<rect x="1307" y="203" width="3" height="5" fill="#fff" />
<rect x="1316" y="187" width="1" height="56" fill="#000" />
<rect x="1314" y="202" width="5" height="30" fill="#000" />
<rect x="1324" y="225" width="1" height="122" fill="#000" />
<rect x="1322" y="232" width="5" height="114" fill="#000" />
<rect x="1332" y="328" width="1" height="61" fill="#000" />
<rect x="1330" y="344" width="5" height="32" fill="#000" />
<rect x="1340" y="353" width="1" height="49" fill="#000" />
<rect x="1338" y="374" width="5" height="2" fill="#000" />
<rect x="1348" y="360" width="1" height="22" fill="#000" />
<rect x="1346" y="360" width="5" height="15" fill="#000" />
<rect x="1347" y="361" width="3" height="13" fill="#fff" />
<rect x="1356" y="339" width="1" height="118" fill="#000" />
<rect x="1354" y="360" width="5" height="21" fill="#000" />
<rect x="1364" y="297" width="1" height="86" fill="#000" />
<rect x="1362" y="360" width="5" height="21" fill="#000" />
<rect x="1363" y="361" width="3" height="19" fill="#fff" />
<rect x="1372" y="311" width="1" height="87" fill="#000" />
<rect x="1370" y="361" width="5" height="34" fill="#000" />
<rect x="1380" y="393" width="1" height="90" fill="#000" />
<rect x="1378" y="395" width="5" height="88" fill="#000" />
<rect x="1388" y="458" width="1" height="24" fill="#000" />
<rect x="1386" y="468" width="5" height="14" fill="#000" />
<rect x="1387" y="469" width="3" height="12" fill="#fff" />
<rect x="1396" y="465" width="1" height="4" fill="#000" />
<rect x="1394" y="466" width="5" height="3" fill="#000" />
<rect x="1395" y="467" width="3" height="1" fill="#fff" />
</g>
<rect x="1305" y="434" width="120" height="13" fill="#00FF00" shape-rendering="crispEdges"/>
<line x1="1264" y1="79" x2="1405.5" y2="540" stroke="#FF0000" stroke-width="3" shape-rendering="crispEdges"/>
<path d="M1407,544.5 L1398.5,534.5 L1403.8,535.6 L1405.8,535 L1409.6,531.5 Z" fill="#FF0000"/>
<text x="1406.6" y="410.6" font-size="32.3" font-weight="bold" fill="#003800" textLength="163" lengthAdjust="spacing" style="font-family:'Liberation Serif','Noto Serif CJK SC',serif">多空转折点</text>
<text x="1405.6" y="409.8" font-size="32.3" font-weight="bold" fill="#00FF00" textLength="163" lengthAdjust="spacing" style="font-family:'Liberation Serif','Noto Serif CJK SC',serif">多空转折点</text>
<g shape-rendering="crispEdges">
<rect x="1477" y="438" width="10" height="1" fill="#FF0000" />
<rect x="1484" y="436" width="5" height="5" fill="#FF0000" />
<rect x="1485" y="437" width="3" height="3" fill="#fff" />
<rect x="1487" y="426" width="74" height="25" fill="#FF0000" />
<rect x="1488" y="427" width="72" height="23" fill="#fff" />
</g>
<text x="1490" y="446.6" font-size="22.3" fill="#FF0000" textLength="69" lengthAdjust="spacingAndGlyphs" stroke="#FF0000" stroke-width="0.5">1.28445</text>
<g shape-rendering="crispEdges">
<rect x="4" y="679" width="1" height="8" fill="#C0C0C0" />
<rect x="12" y="672" width="1" height="15" fill="#C0C0C0" />
<rect x="20" y="667" width="1" height="20" fill="#C0C0C0" />
<rect x="28" y="657" width="1" height="30" fill="#C0C0C0" />
<rect x="36" y="648" width="1" height="39" fill="#C0C0C0" />
<rect x="44" y="643" width="1" height="44" fill="#C0C0C0" />
<rect x="52" y="642" width="1" height="45" fill="#C0C0C0" />
<rect x="60" y="643" width="1" height="44" fill="#C0C0C0" />
<rect x="68" y="656" width="1" height="31" fill="#C0C0C0" />
<rect x="76" y="668" width="1" height="19" fill="#C0C0C0" />
<rect x="84" y="680" width="1" height="7" fill="#C0C0C0" />
<rect x="92" y="686" width="1" height="3" fill="#C0C0C0" />
<rect x="100" y="686" width="1" height="12" fill="#C0C0C0" />
<rect x="108" y="686" width="1" height="24" fill="#C0C0C0" />
<rect x="116" y="686" width="1" height="25" fill="#C0C0C0" />
<rect x="124" y="686" width="1" height="25" fill="#C0C0C0" />
<rect x="132" y="686" width="1" height="23" fill="#C0C0C0" />
<rect x="140" y="686" width="1" height="22" fill="#C0C0C0" />
<rect x="148" y="686" width="1" height="22" fill="#C0C0C0" />
<rect x="156" y="686" width="1" height="20" fill="#C0C0C0" />
<rect x="164" y="686" width="1" height="16" fill="#C0C0C0" />
<rect x="172" y="686" width="1" height="19" fill="#C0C0C0" />
<rect x="180" y="686" width="1" height="23" fill="#C0C0C0" />
<rect x="188" y="686" width="1" height="25" fill="#C0C0C0" />
<rect x="196" y="686" width="1" height="26" fill="#C0C0C0" />
<rect x="204" y="686" width="1" height="28" fill="#C0C0C0" />
<rect x="212" y="686" width="1" height="31" fill="#C0C0C0" />
<rect x="220" y="686" width="1" height="37" fill="#C0C0C0" />
<rect x="228" y="686" width="1" height="40" fill="#C0C0C0" />
<rect x="236" y="686" width="1" height="43" fill="#C0C0C0" />
<rect x="244" y="686" width="1" height="44" fill="#C0C0C0" />
<rect x="252" y="686" width="1" height="44" fill="#C0C0C0" />
<rect x="260" y="686" width="1" height="44" fill="#C0C0C0" />
<rect x="268" y="686" width="1" height="43" fill="#C0C0C0" />
<rect x="276" y="686" width="1" height="47" fill="#C0C0C0" />
<rect x="284" y="686" width="1" height="50" fill="#C0C0C0" />
<rect x="292" y="686" width="1" height="50" fill="#C0C0C0" />
<rect x="300" y="686" width="1" height="52" fill="#C0C0C0" />
<rect x="308" y="686" width="1" height="48" fill="#C0C0C0" />
<rect x="316" y="686" width="1" height="45" fill="#C0C0C0" />
<rect x="324" y="686" width="1" height="42" fill="#C0C0C0" />
<rect x="332" y="686" width="1" height="39" fill="#C0C0C0" />
<rect x="340" y="686" width="1" height="37" fill="#C0C0C0" />
<rect x="348" y="686" width="1" height="36" fill="#C0C0C0" />
<rect x="356" y="686" width="1" height="31" fill="#C0C0C0" />
<rect x="364" y="686" width="1" height="26" fill="#C0C0C0" />
<rect x="372" y="686" width="1" height="20" fill="#C0C0C0" />
<rect x="380" y="686" width="1" height="16" fill="#C0C0C0" />
<rect x="388" y="686" width="1" height="12" fill="#C0C0C0" />
<rect x="396" y="686" width="1" height="8" fill="#C0C0C0" />
<rect x="404" y="686" width="1" height="1" fill="#C0C0C0" />
<rect x="412" y="686" width="1" height="1" fill="#C0C0C0" />
<rect x="420" y="686" width="1" height="1" fill="#C0C0C0" />
<rect x="428" y="685" width="1" height="2" fill="#C0C0C0" />
<rect x="436" y="685" width="1" height="2" fill="#C0C0C0" />
<rect x="444" y="683" width="1" height="4" fill="#C0C0C0" />
<rect x="452" y="680" width="1" height="7" fill="#C0C0C0" />
<rect x="460" y="671" width="1" height="16" fill="#C0C0C0" />
<rect x="468" y="663" width="1" height="24" fill="#C0C0C0" />
<rect x="476" y="659" width="1" height="28" fill="#C0C0C0" />
<rect x="484" y="656" width="1" height="31" fill="#C0C0C0" />
<rect x="492" y="653" width="1" height="34" fill="#C0C0C0" />
<rect x="500" y="653" width="1" height="34" fill="#C0C0C0" />
<rect x="508" y="656" width="1" height="31" fill="#C0C0C0" />
<rect x="516" y="656" width="1" height="31" fill="#C0C0C0" />
<rect x="524" y="655" width="1" height="32" fill="#C0C0C0" />
<rect x="532" y="655" width="1" height="32" fill="#C0C0C0" />
<rect x="540" y="656" width="1" height="31" fill="#C0C0C0" />
<rect x="548" y="659" width="1" height="28" fill="#C0C0C0" />
<rect x="556" y="664" width="1" height="23" fill="#C0C0C0" />
<rect x="564" y="668" width="1" height="19" fill="#C0C0C0" />
<rect x="572" y="671" width="1" height="16" fill="#C0C0C0" />
<rect x="580" y="673" width="1" height="14" fill="#C0C0C0" />
<rect x="588" y="676" width="1" height="11" fill="#C0C0C0" />
<rect x="596" y="674" width="1" height="13" fill="#C0C0C0" />
<rect x="604" y="673" width="1" height="14" fill="#C0C0C0" />
<rect x="612" y="676" width="1" height="11" fill="#C0C0C0" />
<rect x="620" y="680" width="1" height="7" fill="#C0C0C0" />
<rect x="628" y="681" width="1" height="6" fill="#C0C0C0" />
<rect x="636" y="682" width="1" height="5" fill="#C0C0C0" />
<rect x="644" y="685" width="1" height="2" fill="#C0C0C0" />
<rect x="652" y="686" width="1" height="5" fill="#C0C0C0" />
<rect x="660" y="686" width="1" height="13" fill="#C0C0C0" />
<rect x="668" y="686" width="1" height="19" fill="#C0C0C0" />
<rect x="676" y="686" width="1" height="25" fill="#C0C0C0" />
<rect x="684" y="686" width="1" height="30" fill="#C0C0C0" />
<rect x="692" y="686" width="1" height="37" fill="#C0C0C0" />
<rect x="700" y="686" width="1" height="41" fill="#C0C0C0" />
<rect x="708" y="686" width="1" height="44" fill="#C0C0C0" />
<rect x="716" y="686" width="1" height="45" fill="#C0C0C0" />
<rect x="724" y="686" width="1" height="45" fill="#C0C0C0" />
<rect x="732" y="686" width="1" height="44" fill="#C0C0C0" />
<rect x="740" y="686" width="1" height="37" fill="#C0C0C0" />
<rect x="748" y="686" width="1" height="29" fill="#C0C0C0" />
<rect x="756" y="686" width="1" height="22" fill="#C0C0C0" />
<rect x="764" y="686" width="1" height="17" fill="#C0C0C0" />
<rect x="772" y="686" width="1" height="17" fill="#C0C0C0" />
<rect x="780" y="686" width="1" height="15" fill="#C0C0C0" />
<rect x="788" y="686" width="1" height="17" fill="#C0C0C0" />
<rect x="796" y="686" width="1" height="16" fill="#C0C0C0" />
<rect x="804" y="686" width="1" height="17" fill="#C0C0C0" />
<rect x="812" y="686" width="1" height="16" fill="#C0C0C0" />
<rect x="820" y="686" width="1" height="14" fill="#C0C0C0" />
<rect x="828" y="686" width="1" height="9" fill="#C0C0C0" />
<rect x="836" y="686" width="1" height="6" fill="#C0C0C0" />
<rect x="844" y="683" width="1" height="4" fill="#C0C0C0" />
<rect x="852" y="678" width="1" height="9" fill="#C0C0C0" />
<rect x="860" y="674" width="1" height="13" fill="#C0C0C0" />
<rect x="868" y="672" width="1" height="15" fill="#C0C0C0" />
<rect x="876" y="671" width="1" height="16" fill="#C0C0C0" />
<rect x="884" y="676" width="1" height="11" fill="#C0C0C0" />
<rect x="892" y="682" width="1" height="5" fill="#C0C0C0" />
<rect x="908" y="686" width="1" height="6" fill="#C0C0C0" />
<rect x="916" y="686" width="1" height="8" fill="#C0C0C0" />
<rect x="924" y="686" width="1" height="9" fill="#C0C0C0" />
<rect x="932" y="686" width="1" height="16" fill="#C0C0C0" />
<rect x="940" y="686" width="1" height="21" fill="#C0C0C0" />
<rect x="948" y="686" width="1" height="22" fill="#C0C0C0" />
<rect x="956" y="686" width="1" height="23" fill="#C0C0C0" />
<rect x="964" y="686" width="1" height="26" fill="#C0C0C0" />
<rect x="972" y="686" width="1" height="28" fill="#C0C0C0" />
<rect x="980" y="686" width="1" height="28" fill="#C0C0C0" />
<rect x="988" y="686" width="1" height="39" fill="#C0C0C0" />
<rect x="996" y="686" width="1" height="45" fill="#C0C0C0" />
<rect x="1004" y="686" width="1" height="48" fill="#C0C0C0" />
<rect x="1012" y="686" width="1" height="47" fill="#C0C0C0" />
<rect x="1020" y="686" width="1" height="47" fill="#C0C0C0" />
<rect x="1028" y="686" width="1" height="51" fill="#C0C0C0" />
<rect x="1036" y="686" width="1" height="57" fill="#C0C0C0" />
<rect x="1044" y="686" width="1" height="58" fill="#C0C0C0" />
<rect x="1052" y="686" width="1" height="59" fill="#C0C0C0" />
<rect x="1060" y="686" width="1" height="58" fill="#C0C0C0" />
<rect x="1068" y="686" width="1" height="54" fill="#C0C0C0" />
<rect x="1076" y="686" width="1" height="51" fill="#C0C0C0" />
<rect x="1084" y="686" width="1" height="45" fill="#C0C0C0" />
<rect x="1092" y="686" width="1" height="42" fill="#C0C0C0" />
<rect x="1100" y="686" width="1" height="37" fill="#C0C0C0" />
<rect x="1108" y="686" width="1" height="33" fill="#C0C0C0" />
<rect x="1116" y="686" width="1" height="33" fill="#C0C0C0" />
<rect x="1124" y="686" width="1" height="31" fill="#C0C0C0" />
<rect x="1132" y="686" width="1" height="26" fill="#C0C0C0" />
<rect x="1140" y="686" width="1" height="19" fill="#C0C0C0" />
<rect x="1148" y="686" width="1" height="11" fill="#C0C0C0" />
<rect x="1156" y="686" width="1" height="6" fill="#C0C0C0" />
<rect x="1172" y="678" width="1" height="9" fill="#C0C0C0" />
<rect x="1180" y="670" width="1" height="17" fill="#C0C0C0" />
<rect x="1188" y="663" width="1" height="24" fill="#C0C0C0" />
<rect x="1196" y="656" width="1" height="31" fill="#C0C0C0" />
<rect x="1204" y="651" width="1" height="36" fill="#C0C0C0" />
<rect x="1212" y="645" width="1" height="42" fill="#C0C0C0" />
<rect x="1220" y="637" width="1" height="50" fill="#C0C0C0" />
<rect x="1228" y="630" width="1" height="57" fill="#C0C0C0" />
<rect x="1236" y="626" width="1" height="61" fill="#C0C0C0" />
<rect x="1244" y="615" width="1" height="72" fill="#C0C0C0" />
<rect x="1252" y="609" width="1" height="78" fill="#C0C0C0" />
<rect x="1260" y="594" width="1" height="93" fill="#C0C0C0" />
<rect x="1268" y="592" width="1" height="95" fill="#C0C0C0" />
<rect x="1276" y="592" width="1" height="95" fill="#C0C0C0" />
<rect x="1284" y="593" width="1" height="94" fill="#C0C0C0" />
<rect x="1292" y="597" width="1" height="90" fill="#C0C0C0" />
<rect x="1300" y="603" width="1" height="84" fill="#C0C0C0" />
<rect x="1308" y="609" width="1" height="78" fill="#C0C0C0" />
<rect x="1316" y="616" width="1" height="71" fill="#C0C0C0" />
<rect x="1324" y="635" width="1" height="52" fill="#C0C0C0" />
<rect x="1332" y="653" width="1" height="34" fill="#C0C0C0" />
<rect x="1340" y="667" width="1" height="20" fill="#C0C0C0" />
<rect x="1348" y="677" width="1" height="10" fill="#C0C0C0" />
<rect x="1364" y="686" width="1" height="7" fill="#C0C0C0" />
<rect x="1372" y="686" width="1" height="15" fill="#C0C0C0" />
<rect x="1380" y="686" width="1" height="30" fill="#C0C0C0" />
<rect x="1388" y="686" width="1" height="40" fill="#C0C0C0" />
<rect x="1396" y="686" width="1" height="47" fill="#C0C0C0" />
</g>
<path d="M1339 615h1v2h-1zM1363 645h1v2h-1zM1372 657h1v2h-1zM1380 669h1v2h-1zM1383 674h1v2h-1zM1387 681h1v2h-1zM1392 687h1v2h-1zM1303 600h2v1h-2zM1308 600h3v1h-3zM1314 600h3v1h-3zM1298 601h1v1h-1zM1302 601h1v1h-1zM1320 601h2v1h-2zM1296 602h2v1h-2zM1322 602h1v1h-1zM1291 604h2v1h-2zM1326 604h2v1h-2zM1290 605h1v1h-1zM1328 605h1v1h-1zM1285 608h2v1h-2zM1284 609h1v1h-1zM1332 609h2v1h-2zM1334 610h1v1h-1zM1280 612h1v1h-1zM1279 613h1v1h-1zM1278 614h1v1h-1zM1338 614h1v1h-1zM1274 617h1v1h-1zM1272 618h2v1h-2zM1342 620h1v1h-1zM1268 621h1v1h-1zM1343 621h1v1h-1zM1267 622h1v1h-1zM1344 622h1v1h-1zM1266 623h1v1h-1zM1347 626h1v1h-1zM1262 627h1v1h-1zM1348 627h1v1h-1zM1261 628h1v1h-1zM1349 628h1v1h-1zM1260 629h1v1h-1zM1256 632h1v1h-1zM1352 632h1v1h-1zM1255 633h1v1h-1zM1353 633h1v1h-1zM1254 634h1v1h-1zM1354 634h1v1h-1zM1249 638h2v1h-2zM1357 638h1v1h-1zM1248 639h1v1h-1zM1358 639h1v1h-1zM1359 640h1v1h-1zM1243 643h2v1h-2zM1242 644h1v1h-1zM1362 644h1v1h-1zM1238 648h1v1h-1zM1237 649h1v1h-1zM1236 650h1v1h-1zM1366 650h1v1h-1zM1367 651h1v1h-1zM1368 652h1v1h-1zM1232 653h1v1h-1zM72 654h3v1h-3zM78 654h1v1h-1zM535 654h2v1h-2zM540 654h3v1h-3zM546 654h3v1h-3zM552 654h1v1h-1zM1231 654h1v1h-1zM67 655h2v1h-2zM79 655h2v1h-2zM530 655h1v1h-1zM534 655h1v1h-1zM553 655h2v1h-2zM558 655h1v1h-1zM1230 655h1v1h-1zM66 656h1v1h-1zM84 656h3v1h-3zM528 656h2v1h-2zM559 656h2v1h-2zM1371 656h1v1h-1zM524 657h1v1h-1zM564 657h3v1h-3zM61 658h2v1h-2zM90 658h3v1h-3zM522 658h2v1h-2zM570 658h2v1h-2zM60 659h1v1h-1zM518 659h1v1h-1zM572 659h1v1h-1zM1225 659h2v1h-2zM96 660h2v1h-2zM516 660h2v1h-2zM576 660h3v1h-3zM1224 660h1v1h-1zM55 661h2v1h-2zM98 661h1v1h-1zM582 661h2v1h-2zM54 662h1v1h-1zM510 662h3v1h-3zM584 662h1v1h-1zM1375 662h1v1h-1zM506 663h1v1h-1zM588 663h3v1h-3zM1376 663h1v1h-1zM50 664h1v1h-1zM102 664h1v1h-1zM504 664h2v1h-2zM594 664h1v1h-1zM1219 664h2v1h-2zM1377 664h1v1h-1zM49 665h1v1h-1zM103 665h1v1h-1zM500 665h1v1h-1zM595 665h2v1h-2zM1218 665h1v1h-1zM48 666h1v1h-1zM104 666h1v1h-1zM498 666h2v1h-2zM600 666h3v1h-3zM606 667h1v1h-1zM494 668h1v1h-1zM607 668h2v1h-2zM1214 668h1v1h-1zM1379 668h1v1h-1zM44 669h1v1h-1zM108 669h1v1h-1zM492 669h2v1h-2zM612 669h2v1h-2zM1213 669h1v1h-1zM43 670h1v1h-1zM109 670h1v1h-1zM614 670h1v1h-1zM1212 670h1v1h-1zM42 671h1v1h-1zM110 671h1v1h-1zM488 671h1v1h-1zM618 671h3v1h-3zM486 672h2v1h-2zM624 672h3v1h-3zM630 673h3v1h-3zM1208 673h1v1h-1zM480 674h3v1h-3zM636 674h2v1h-2zM1207 674h1v1h-1zM37 675h2v1h-2zM114 675h1v1h-1zM638 675h1v1h-1zM1206 675h1v1h-1zM36 676h1v1h-1zM115 676h1v1h-1zM475 676h2v1h-2zM642 676h3v1h-3zM1384 676h1v1h-1zM116 677h1v1h-1zM474 677h1v1h-1zM648 678h3v1h-3zM895 678h2v1h-2zM900 678h3v1h-3zM906 678h3v1h-3zM912 678h1v1h-1zM469 679h2v1h-2zM654 679h1v1h-1zM888 679h3v1h-3zM894 679h1v1h-1zM913 679h2v1h-2zM1201 679h2v1h-2zM31 680h2v1h-2zM120 680h1v1h-1zM468 680h1v1h-1zM655 680h2v1h-2zM1200 680h1v1h-1zM1386 680h1v1h-1zM30 681h1v1h-1zM121 681h1v1h-1zM660 681h2v1h-2zM883 681h2v1h-2zM918 681h3v1h-3zM122 682h1v1h-1zM462 682h3v1h-3zM662 682h1v1h-1zM882 682h1v1h-1zM924 682h1v1h-1zM878 683h1v1h-1zM925 683h2v1h-2zM26 684h1v1h-1zM457 684h2v1h-2zM666 684h2v1h-2zM876 684h2v1h-2zM930 684h3v1h-3zM1196 684h1v1h-1zM25 685h1v1h-1zM456 685h1v1h-1zM668 685h1v1h-1zM1195 685h1v1h-1zM24 686h1v1h-1zM126 686h1v1h-1zM452 686h1v1h-1zM870 686h3v1h-3zM936 686h1v1h-1zM1194 686h1v1h-1zM1391 686h1v1h-1zM127 687h1v1h-1zM450 687h2v1h-2zM672 687h2v1h-2zM937 687h2v1h-2zM128 688h1v1h-1zM446 688h1v1h-1zM674 688h1v1h-1zM865 688h2v1h-2zM19 689h2v1h-2zM444 689h2v1h-2zM864 689h1v1h-1zM942 689h1v1h-1zM1190 689h1v1h-1zM18 690h1v1h-1zM440 690h1v1h-1zM678 690h2v1h-2zM860 690h1v1h-1zM943 690h2v1h-2zM1188 690h2v1h-2zM132 691h1v1h-1zM438 691h2v1h-2zM680 691h1v1h-1zM858 691h2v1h-2zM14 692h1v1h-1zM133 692h1v1h-1zM434 692h1v1h-1zM948 692h1v1h-1zM1396 692h1v1h-1zM12 693h2v1h-2zM134 693h1v1h-1zM432 693h2v1h-2zM684 693h2v1h-2zM854 693h1v1h-1zM949 693h2v1h-2zM1184 693h1v1h-1zM427 694h2v1h-2zM686 694h1v1h-1zM852 694h2v1h-2zM1183 694h1v1h-1zM8 695h1v1h-1zM426 695h1v1h-1zM954 695h2v1h-2zM1182 695h1v1h-1zM6 696h2v1h-2zM138 696h2v1h-2zM422 696h1v1h-1zM690 696h2v1h-2zM846 696h3v1h-3zM956 696h1v1h-1zM140 697h1v1h-1zM420 697h2v1h-2zM692 697h1v1h-1zM1 698h2v1h-2zM840 698h3v1h-3zM960 698h2v1h-2zM1177 698h2v1h-2zM0 699h1v1h-1zM144 699h1v1h-1zM416 699h1v1h-1zM962 699h1v1h-1zM1176 699h1v1h-1zM145 700h2v1h-2zM414 700h2v1h-2zM696 700h2v1h-2zM828 700h3v1h-3zM834 700h3v1h-3zM966 700h1v1h-1zM698 701h1v1h-1zM822 701h3v1h-3zM967 701h2v1h-2zM150 702h1v1h-1zM817 702h2v1h-2zM1171 702h2v1h-2zM151 703h2v1h-2zM409 703h2v1h-2zM816 703h1v1h-1zM972 703h3v1h-3zM1170 703h1v1h-1zM156 704h3v1h-3zM408 704h1v1h-1zM702 704h2v1h-2zM812 704h1v1h-1zM162 705h1v1h-1zM704 705h1v1h-1zM810 705h2v1h-2zM978 705h2v1h-2zM163 706h2v1h-2zM168 706h3v1h-3zM403 706h2v1h-2zM805 706h2v1h-2zM980 706h1v1h-1zM1166 706h1v1h-1zM174 707h3v1h-3zM180 707h3v1h-3zM186 707h3v1h-3zM192 707h3v1h-3zM198 707h3v1h-3zM204 707h2v1h-2zM402 707h1v1h-1zM804 707h1v1h-1zM1164 707h2v1h-2zM206 708h1v1h-1zM210 708h3v1h-3zM708 708h1v1h-1zM798 708h3v1h-3zM984 708h3v1h-3zM216 709h2v1h-2zM397 709h2v1h-2zM709 709h1v1h-1zM1160 709h1v1h-1zM218 710h1v1h-1zM396 710h1v1h-1zM710 710h1v1h-1zM793 710h2v1h-2zM990 710h2v1h-2zM1158 710h2v1h-2zM222 711h3v1h-3zM792 711h1v1h-1zM992 711h1v1h-1zM391 712h2v1h-2zM714 712h1v1h-1zM788 712h1v1h-1zM996 712h1v1h-1zM1154 712h1v1h-1zM228 713h2v1h-2zM390 713h1v1h-1zM715 713h2v1h-2zM786 713h2v1h-2zM997 713h2v1h-2zM1153 713h1v1h-1zM230 714h1v1h-1zM782 714h1v1h-1zM1152 714h1v1h-1zM234 715h1v1h-1zM385 715h2v1h-2zM720 715h1v1h-1zM780 715h2v1h-2zM1002 715h2v1h-2zM235 716h2v1h-2zM384 716h1v1h-1zM721 716h2v1h-2zM775 716h2v1h-2zM1004 716h1v1h-1zM1148 716h1v1h-1zM240 717h1v1h-1zM380 717h1v1h-1zM774 717h1v1h-1zM1147 717h1v1h-1zM241 718h2v1h-2zM378 718h2v1h-2zM770 718h1v1h-1zM1008 718h2v1h-2zM1146 718h1v1h-1zM246 719h2v1h-2zM726 719h2v1h-2zM768 719h2v1h-2zM1010 719h1v1h-1zM248 720h1v1h-1zM374 720h1v1h-1zM728 720h1v1h-1zM1014 720h1v1h-1zM1142 720h1v1h-1zM252 721h3v1h-3zM372 721h2v1h-2zM763 721h2v1h-2zM1015 721h2v1h-2zM1140 721h2v1h-2zM258 722h1v1h-1zM732 722h2v1h-2zM757 722h2v1h-2zM762 722h1v1h-1zM259 723h2v1h-2zM367 723h2v1h-2zM734 723h1v1h-1zM738 723h2v1h-2zM750 723h3v1h-3zM756 723h1v1h-1zM1020 723h3v1h-3zM1135 723h2v1h-2zM264 724h3v1h-3zM366 724h1v1h-1zM740 724h1v1h-1zM744 724h3v1h-3zM1134 724h1v1h-1zM270 725h2v1h-2zM361 725h2v1h-2zM1026 725h3v1h-3zM1130 725h1v1h-1zM272 726h1v1h-1zM360 726h1v1h-1zM1128 726h2v1h-2zM276 727h3v1h-3zM354 727h3v1h-3zM1032 727h2v1h-2zM282 728h1v1h-1zM350 728h1v1h-1zM1034 728h1v1h-1zM1124 728h1v1h-1zM283 729h2v1h-2zM348 729h2v1h-2zM1122 729h2v1h-2zM288 730h3v1h-3zM294 730h2v1h-2zM342 730h3v1h-3zM1038 730h2v1h-2zM296 731h1v1h-1zM300 731h3v1h-3zM332 731h1v1h-1zM336 731h3v1h-3zM1040 731h1v1h-1zM1116 731h3v1h-3zM306 732h3v1h-3zM312 732h3v1h-3zM318 732h3v1h-3zM324 732h3v1h-3zM330 732h2v1h-2zM1112 732h1v1h-1zM1044 733h2v1h-2zM1110 733h2v1h-2zM1046 734h1v1h-1zM1105 734h2v1h-2zM1050 735h3v1h-3zM1104 735h1v1h-1zM1056 736h3v1h-3zM1098 736h3v1h-3zM1062 737h3v1h-3zM1092 737h3v1h-3zM1068 738h3v1h-3zM1074 738h2v1h-2zM1086 738h3v1h-3zM1076 739h1v1h-1zM1080 739h3v1h-3z" fill="#FF0000" shape-rendering="crispEdges"/>
<g shape-rendering="crispEdges">
<line x1="3" y1="790.5" x2="1605" y2="790.5" stroke="#C0C0C0" stroke-width="1" stroke-dasharray="3,3"/>
<line x1="3" y1="841.5" x2="1605" y2="841.5" stroke="#C0C0C0" stroke-width="1" stroke-dasharray="3,3"/>
<line x1="3" y1="902.5" x2="1605" y2="902.5" stroke="#C0C0C0" stroke-width="1" stroke-dasharray="3,3"/>
</g>
<path d="M8 819h1v2h-1zM21 813h1v2h-1zM23 810h1v2h-1zM25 807h1v2h-1zM27 804h1v2h-1zM40 804h1v2h-1zM46 811h1v2h-1zM50 816h1v2h-1zM60 824h1v2h-1zM61 826h1v3h-1zM62 829h1v4h-1zM63 833h1v3h-1zM64 836h1v3h-1zM65 839h1v3h-1zM66 842h1v4h-1zM67 846h1v3h-1zM68 849h1v2h-1zM69 851h1v2h-1zM72 855h1v2h-1zM75 859h1v2h-1zM102 865h1v2h-1zM106 870h1v2h-1zM108 872h1v2h-1zM109 870h1v2h-1zM110 867h1v3h-1zM111 864h1v3h-1zM112 862h1v2h-1zM113 859h1v3h-1zM114 856h1v3h-1zM115 854h1v2h-1zM116 852h1v2h-1zM164 838h1v2h-1zM165 840h1v2h-1zM166 842h1v2h-1zM167 844h1v3h-1zM168 847h1v2h-1zM169 849h1v3h-1zM170 852h1v2h-1zM171 854h1v2h-1zM172 856h1v2h-1zM216 864h1v2h-1zM269 863h1v2h-1zM270 865h1v2h-1zM272 868h1v2h-1zM274 871h1v2h-1zM275 873h1v2h-1zM300 874h1v2h-1zM301 872h1v2h-1zM302 869h1v3h-1zM303 866h1v3h-1zM304 864h1v2h-1zM305 861h1v3h-1zM306 858h1v3h-1zM307 856h1v2h-1zM308 854h1v2h-1zM349 856h1v2h-1zM352 852h1v2h-1zM355 848h1v2h-1zM437 839h1v2h-1zM440 835h1v2h-1zM443 831h1v2h-1zM452 826h1v2h-1zM453 823h1v3h-1zM454 821h1v2h-1zM455 818h1v3h-1zM456 815h1v3h-1zM457 812h1v3h-1zM458 810h1v2h-1zM459 807h1v3h-1zM460 805h1v2h-1zM493 810h1v2h-1zM494 812h1v2h-1zM495 814h1v2h-1zM496 816h1v2h-1zM497 818h1v2h-1zM498 820h1v2h-1zM499 822h1v2h-1zM542 828h1v2h-1zM546 833h1v2h-1zM588 844h1v2h-1zM589 842h1v2h-1zM590 840h1v2h-1zM591 837h1v3h-1zM592 835h1v2h-1zM593 832h1v3h-1zM594 830h1v2h-1zM595 828h1v2h-1zM596 826h1v2h-1zM604 828h1v2h-1zM605 830h1v2h-1zM606 832h1v2h-1zM607 834h1v2h-1zM608 836h1v3h-1zM609 839h1v2h-1zM610 841h1v2h-1zM611 843h1v2h-1zM612 845h1v2h-1zM638 843h1v2h-1zM642 848h1v2h-1zM645 852h1v2h-1zM646 854h1v2h-1zM648 857h1v2h-1zM650 860h1v2h-1zM651 862h1v2h-1zM656 868h1v2h-1zM720 872h1v2h-1zM732 869h1v2h-1zM733 865h1v4h-1zM734 861h1v4h-1zM735 857h1v4h-1zM736 854h1v3h-1zM737 850h1v4h-1zM738 846h1v4h-1zM739 842h1v4h-1zM740 840h1v2h-1zM760 835h1v2h-1zM781 844h1v2h-1zM782 846h1v2h-1zM783 848h1v2h-1zM785 851h1v2h-1zM786 853h1v2h-1zM787 855h1v2h-1zM837 830h1v2h-1zM838 828h1v2h-1zM839 826h1v2h-1zM840 824h1v2h-1zM841 822h1v2h-1zM842 820h1v2h-1zM843 818h1v2h-1zM876 830h1v2h-1zM877 832h1v2h-1zM878 834h1v3h-1zM879 837h1v2h-1zM880 839h1v3h-1zM881 842h1v2h-1zM882 844h1v3h-1zM883 847h1v2h-1zM884 849h1v2h-1zM925 852h1v2h-1zM926 854h1v2h-1zM927 856h1v2h-1zM928 858h1v2h-1zM929 860h1v2h-1zM930 862h1v2h-1zM931 864h1v2h-1zM932 866h1v2h-1zM942 863h1v2h-1zM946 858h1v2h-1zM976 860h1v2h-1zM980 856h1v2h-1zM981 858h1v3h-1zM982 861h1v3h-1zM983 864h1v3h-1zM984 867h1v3h-1zM985 870h1v3h-1zM986 873h1v3h-1zM987 876h1v3h-1zM988 879h1v2h-1zM1005 866h1v2h-1zM1008 862h1v2h-1zM1011 858h1v2h-1zM1040 868h1v2h-1zM1078 855h1v2h-1zM1082 850h1v2h-1zM1125 852h1v2h-1zM1128 848h1v2h-1zM1131 844h1v2h-1zM1133 841h1v2h-1zM1134 839h1v2h-1zM1136 836h1v2h-1zM1138 833h1v2h-1zM1139 831h1v2h-1zM1165 826h1v2h-1zM1166 824h1v2h-1zM1168 821h1v2h-1zM1170 818h1v2h-1zM1171 816h1v2h-1zM1232 797h1v2h-1zM1237 800h1v2h-1zM1239 797h1v2h-1zM1241 794h1v2h-1zM1243 791h1v2h-1zM1254 793h1v2h-1zM1258 788h1v2h-1zM1260 786h1v2h-1zM1261 788h1v4h-1zM1262 792h1v3h-1zM1263 795h1v4h-1zM1264 799h1v3h-1zM1265 802h1v4h-1zM1266 806h1v3h-1zM1267 809h1v4h-1zM1268 813h1v2h-1zM1288 817h1v2h-1zM1316 832h1v2h-1zM1317 834h1v3h-1zM1318 837h1v2h-1zM1319 839h1v3h-1zM1320 842h1v3h-1zM1321 845h1v3h-1zM1322 848h1v2h-1zM1323 850h1v3h-1zM1324 853h1v2h-1zM1373 860h1v2h-1zM1374 862h1v2h-1zM1375 864h1v2h-1zM1377 867h1v2h-1zM1378 869h1v2h-1zM1379 871h1v2h-1zM1259 787h1v1h-1zM1244 790h1v1h-1zM1257 790h1v1h-1zM1245 791h1v1h-1zM1256 791h1v1h-1zM1246 792h2v1h-2zM1255 792h1v1h-1zM1227 793h2v1h-2zM1242 793h1v1h-1zM1248 793h1v1h-1zM1224 794h3v1h-3zM1229 794h1v1h-1zM1249 794h1v1h-1zM1222 795h2v1h-2zM1230 795h1v1h-1zM1250 795h2v1h-2zM1253 795h1v1h-1zM1220 796h2v1h-2zM1231 796h1v1h-1zM1240 796h1v1h-1zM1252 796h1v1h-1zM1219 797h1v1h-1zM1218 798h1v1h-1zM1216 799h2v1h-2zM1233 799h1v1h-1zM1238 799h1v1h-1zM35 800h2v1h-2zM1215 800h1v1h-1zM1234 800h1v1h-1zM32 801h3v1h-3zM37 801h1v1h-1zM1214 801h1v1h-1zM1235 801h1v1h-1zM30 802h2v1h-2zM38 802h1v1h-1zM1213 802h1v1h-1zM1236 802h1v1h-1zM28 803h2v1h-2zM39 803h1v1h-1zM1210 803h3v1h-3zM1206 804h4v1h-4zM461 805h3v1h-3zM1203 805h3v1h-3zM26 806h1v1h-1zM41 806h1v1h-1zM464 806h5v1h-5zM1201 806h2v1h-2zM42 807h1v1h-1zM469 807h2v1h-2zM1199 807h2v1h-2zM43 808h1v1h-1zM471 808h2v1h-2zM1197 808h2v1h-2zM24 809h1v1h-1zM44 809h1v1h-1zM473 809h2v1h-2zM491 809h2v1h-2zM1192 809h5v1h-5zM45 810h1v1h-1zM475 810h3v1h-3zM489 810h2v1h-2zM1187 810h5v1h-5zM478 811h2v1h-2zM487 811h2v1h-2zM1185 811h2v1h-2zM22 812h1v1h-1zM480 812h3v1h-3zM485 812h2v1h-2zM1183 812h2v1h-2zM47 813h1v1h-1zM483 813h2v1h-2zM1181 813h2v1h-2zM1280 813h5v1h-5zM48 814h1v1h-1zM1176 814h5v1h-5zM1269 814h11v1h-11zM1285 814h1v1h-1zM12 815h9v1h-9zM49 815h1v1h-1zM1172 815h4v1h-4zM1286 815h1v1h-1zM11 816h1v1h-1zM1287 816h1v1h-1zM10 817h1v1h-1zM844 817h1v1h-1zM9 818h1v1h-1zM51 818h1v1h-1zM845 818h1v1h-1zM52 819h1v1h-1zM524 819h2v1h-2zM846 819h1v1h-1zM1289 819h1v1h-1zM53 820h2v1h-2zM522 820h2v1h-2zM526 820h2v1h-2zM847 820h1v1h-1zM1169 820h1v1h-1zM1290 820h1v1h-1zM7 821h1v1h-1zM55 821h1v1h-1zM520 821h2v1h-2zM528 821h3v1h-3zM848 821h2v1h-2zM1291 821h1v1h-1zM6 822h1v1h-1zM56 822h2v1h-2zM519 822h1v1h-1zM531 822h2v1h-2zM850 822h1v1h-1zM1292 822h2v1h-2zM5 823h1v1h-1zM58 823h2v1h-2zM517 823h2v1h-2zM533 823h2v1h-2zM851 823h1v1h-1zM856 823h6v1h-6zM1167 823h1v1h-1zM1294 823h2v1h-2zM0 824h5v1h-5zM500 824h1v1h-1zM516 824h1v1h-1zM535 824h2v1h-2zM852 824h4v1h-4zM862 824h2v1h-2zM1296 824h3v1h-3zM1304 824h5v1h-5zM501 825h1v1h-1zM515 825h1v1h-1zM537 825h2v1h-2zM864 825h3v1h-3zM1299 825h5v1h-5zM1309 825h1v1h-1zM404 826h1v1h-1zM502 826h1v1h-1zM514 826h1v1h-1zM539 826h2v1h-2zM597 826h1v1h-1zM867 826h2v1h-2zM1310 826h1v1h-1zM403 827h1v1h-1zM405 827h2v1h-2zM451 827h1v1h-1zM503 827h1v1h-1zM512 827h2v1h-2zM541 827h1v1h-1zM598 827h4v1h-4zM869 827h2v1h-2zM1311 827h1v1h-1zM402 828h1v1h-1zM407 828h2v1h-2zM448 828h3v1h-3zM504 828h2v1h-2zM511 828h1v1h-1zM602 828h2v1h-2zM871 828h2v1h-2zM1160 828h5v1h-5zM1312 828h1v1h-1zM400 829h2v1h-2zM409 829h2v1h-2zM446 829h2v1h-2zM506 829h1v1h-1zM510 829h1v1h-1zM873 829h2v1h-2zM1144 829h16v1h-16zM1313 829h1v1h-1zM399 830h1v1h-1zM411 830h2v1h-2zM444 830h2v1h-2zM507 830h1v1h-1zM509 830h1v1h-1zM543 830h1v1h-1zM875 830h1v1h-1zM1140 830h4v1h-4zM1314 830h1v1h-1zM398 831h1v1h-1zM413 831h1v1h-1zM508 831h1v1h-1zM544 831h1v1h-1zM755 831h2v1h-2zM1315 831h1v1h-1zM397 832h1v1h-1zM414 832h1v1h-1zM545 832h1v1h-1zM753 832h2v1h-2zM757 832h1v1h-1zM835 832h2v1h-2zM395 833h2v1h-2zM415 833h1v1h-1zM442 833h1v1h-1zM751 833h2v1h-2zM758 833h1v1h-1zM833 833h2v1h-2zM372 834h2v1h-2zM392 834h3v1h-3zM416 834h1v1h-1zM441 834h1v1h-1zM749 834h2v1h-2zM759 834h1v1h-1zM831 834h2v1h-2zM370 835h2v1h-2zM374 835h2v1h-2zM390 835h2v1h-2zM417 835h1v1h-1zM547 835h1v1h-1zM748 835h1v1h-1zM829 835h2v1h-2zM1137 835h1v1h-1zM369 836h1v1h-1zM376 836h3v1h-3zM384 836h6v1h-6zM418 836h1v1h-1zM548 836h1v1h-1zM746 836h2v1h-2zM828 836h1v1h-1zM368 837h1v1h-1zM379 837h5v1h-5zM419 837h1v1h-1zM439 837h1v1h-1zM549 837h2v1h-2zM744 837h2v1h-2zM761 837h1v1h-1zM826 837h2v1h-2zM366 838h2v1h-2zM420 838h2v1h-2zM438 838h1v1h-1zM551 838h1v1h-1zM743 838h1v1h-1zM762 838h1v1h-1zM825 838h1v1h-1zM1135 838h1v1h-1zM163 839h1v1h-1zM365 839h1v1h-1zM422 839h4v1h-4zM552 839h2v1h-2zM741 839h2v1h-2zM763 839h1v1h-1zM824 839h1v1h-1zM162 840h1v1h-1zM364 840h1v1h-1zM426 840h6v1h-6zM554 840h2v1h-2zM764 840h1v1h-1zM822 840h2v1h-2zM160 841h2v1h-2zM363 841h1v1h-1zM432 841h5v1h-5zM556 841h2v1h-2zM571 841h5v1h-5zM636 841h1v1h-1zM765 841h1v1h-1zM821 841h1v1h-1zM159 842h1v1h-1zM362 842h1v1h-1zM558 842h2v1h-2zM568 842h3v1h-3zM576 842h6v1h-6zM634 842h2v1h-2zM637 842h1v1h-1zM766 842h1v1h-1zM820 842h1v1h-1zM158 843h1v1h-1zM360 843h2v1h-2zM560 843h3v1h-3zM566 843h2v1h-2zM582 843h2v1h-2zM632 843h2v1h-2zM767 843h1v1h-1zM779 843h2v1h-2zM818 843h2v1h-2zM1132 843h1v1h-1zM157 844h1v1h-1zM359 844h1v1h-1zM563 844h3v1h-3zM584 844h3v1h-3zM631 844h1v1h-1zM768 844h2v1h-2zM777 844h2v1h-2zM817 844h1v1h-1zM156 845h1v1h-1zM358 845h1v1h-1zM587 845h1v1h-1zM629 845h2v1h-2zM639 845h1v1h-1zM770 845h1v1h-1zM775 845h2v1h-2zM816 845h1v1h-1zM131 846h3v1h-3zM154 846h2v1h-2zM357 846h1v1h-1zM613 846h16v1h-16zM640 846h1v1h-1zM771 846h1v1h-1zM773 846h2v1h-2zM814 846h2v1h-2zM1130 846h1v1h-1zM128 847h3v1h-3zM134 847h4v1h-4zM152 847h2v1h-2zM356 847h1v1h-1zM641 847h1v1h-1zM772 847h1v1h-1zM813 847h1v1h-1zM1098 847h4v1h-4zM1129 847h1v1h-1zM126 848h2v1h-2zM138 848h4v1h-4zM151 848h1v1h-1zM811 848h2v1h-2zM1084 848h4v1h-4zM1094 848h4v1h-4zM1102 848h4v1h-4zM123 849h3v1h-3zM142 849h4v1h-4zM149 849h2v1h-2zM796 849h2v1h-2zM809 849h2v1h-2zM1083 849h1v1h-1zM1088 849h6v1h-6zM1106 849h3v1h-3zM120 850h3v1h-3zM146 850h3v1h-3zM354 850h1v1h-1zM643 850h1v1h-1zM784 850h1v1h-1zM795 850h1v1h-1zM798 850h2v1h-2zM807 850h2v1h-2zM1109 850h1v1h-1zM1127 850h1v1h-1zM118 851h2v1h-2zM353 851h1v1h-1zM644 851h1v1h-1zM794 851h1v1h-1zM800 851h3v1h-3zM805 851h2v1h-2zM885 851h2v1h-2zM916 851h9v1h-9zM1110 851h2v1h-2zM1126 851h1v1h-1zM117 852h1v1h-1zM793 852h1v1h-1zM803 852h2v1h-2zM887 852h1v1h-1zM915 852h1v1h-1zM1081 852h1v1h-1zM1112 852h1v1h-1zM70 853h1v1h-1zM792 853h1v1h-1zM888 853h2v1h-2zM914 853h1v1h-1zM1080 853h1v1h-1zM1113 853h1v1h-1zM71 854h1v1h-1zM186 854h4v1h-4zM309 854h9v1h-9zM338 854h3v1h-3zM351 854h1v1h-1zM791 854h1v1h-1zM890 854h2v1h-2zM913 854h1v1h-1zM1079 854h1v1h-1zM1114 854h2v1h-2zM1120 854h5v1h-5zM1348 854h1v1h-1zM1364 854h1v1h-1zM182 855h4v1h-4zM190 855h4v1h-4zM318 855h4v1h-4zM334 855h4v1h-4zM341 855h2v1h-2zM350 855h1v1h-1zM790 855h1v1h-1zM892 855h2v1h-2zM912 855h1v1h-1zM1068 855h2v1h-2zM1116 855h4v1h-4zM1325 855h2v1h-2zM1346 855h2v1h-2zM1349 855h2v1h-2zM1362 855h2v1h-2zM1365 855h2v1h-2zM176 856h6v1h-6zM194 856h6v1h-6zM322 856h12v1h-12zM343 856h2v1h-2zM647 856h1v1h-1zM789 856h1v1h-1zM894 856h4v1h-4zM911 856h1v1h-1zM948 856h2v1h-2zM1067 856h1v1h-1zM1070 856h2v1h-2zM1327 856h1v1h-1zM1344 856h2v1h-2zM1351 856h1v1h-1zM1360 856h2v1h-2zM1367 856h1v1h-1zM73 857h1v1h-1zM173 857h3v1h-3zM200 857h6v1h-6zM345 857h2v1h-2zM788 857h1v1h-1zM898 857h4v1h-4zM910 857h1v1h-1zM947 857h1v1h-1zM950 857h4v1h-4zM979 857h1v1h-1zM1012 857h1v1h-1zM1066 857h1v1h-1zM1072 857h3v1h-3zM1077 857h1v1h-1zM1328 857h2v1h-2zM1343 857h1v1h-1zM1352 857h2v1h-2zM1359 857h1v1h-1zM1368 857h2v1h-2zM74 858h1v1h-1zM206 858h2v1h-2zM347 858h2v1h-2zM902 858h4v1h-4zM909 858h1v1h-1zM954 858h3v1h-3zM978 858h1v1h-1zM1013 858h1v1h-1zM1065 858h1v1h-1zM1075 858h2v1h-2zM1330 858h2v1h-2zM1341 858h2v1h-2zM1354 858h2v1h-2zM1357 858h2v1h-2zM1370 858h2v1h-2zM208 859h3v1h-3zM649 859h1v1h-1zM906 859h3v1h-3zM957 859h2v1h-2zM977 859h1v1h-1zM1014 859h2v1h-2zM1064 859h1v1h-1zM1332 859h9v1h-9zM1356 859h1v1h-1zM1372 859h1v1h-1zM211 860h2v1h-2zM945 860h1v1h-1zM959 860h2v1h-2zM1010 860h1v1h-1zM1016 860h1v1h-1zM1063 860h1v1h-1zM76 861h2v1h-2zM213 861h1v1h-1zM944 861h1v1h-1zM961 861h2v1h-2zM1009 861h1v1h-1zM1017 861h1v1h-1zM1062 861h1v1h-1zM78 862h2v1h-2zM214 862h1v1h-1zM267 862h2v1h-2zM943 862h1v1h-1zM963 862h3v1h-3zM975 862h1v1h-1zM1018 862h2v1h-2zM1061 862h1v1h-1zM80 863h3v1h-3zM96 863h5v1h-5zM215 863h1v1h-1zM265 863h2v1h-2zM966 863h2v1h-2zM974 863h1v1h-1zM1020 863h1v1h-1zM1059 863h2v1h-2zM83 864h13v1h-13zM101 864h1v1h-1zM243 864h5v1h-5zM263 864h2v1h-2zM652 864h1v1h-1zM968 864h3v1h-3zM973 864h1v1h-1zM1007 864h1v1h-1zM1021 864h2v1h-2zM1044 864h2v1h-2zM1056 864h3v1h-3zM240 865h3v1h-3zM248 865h8v1h-8zM261 865h2v1h-2zM653 865h1v1h-1zM941 865h1v1h-1zM971 865h2v1h-2zM1006 865h1v1h-1zM1023 865h1v1h-1zM1043 865h1v1h-1zM1046 865h4v1h-4zM1054 865h2v1h-2zM217 866h1v1h-1zM238 866h2v1h-2zM256 866h5v1h-5zM654 866h1v1h-1zM936 866h5v1h-5zM1024 866h2v1h-2zM1042 866h1v1h-1zM1050 866h4v1h-4zM1376 866h1v1h-1zM103 867h1v1h-1zM218 867h1v1h-1zM235 867h3v1h-3zM271 867h1v1h-1zM655 867h1v1h-1zM933 867h3v1h-3zM1026 867h2v1h-2zM1041 867h1v1h-1zM104 868h1v1h-1zM219 868h1v1h-1zM232 868h3v1h-3zM724 868h2v1h-2zM1004 868h1v1h-1zM1028 868h1v1h-1zM1392 868h5v1h-5zM105 869h1v1h-1zM220 869h4v1h-4zM230 869h2v1h-2zM723 869h1v1h-1zM726 869h4v1h-4zM1002 869h2v1h-2zM1029 869h2v1h-2zM1387 869h5v1h-5zM224 870h6v1h-6zM273 870h1v1h-1zM291 870h2v1h-2zM657 870h1v1h-1zM667 870h3v1h-3zM722 870h1v1h-1zM730 870h2v1h-2zM1000 870h2v1h-2zM1031 870h1v1h-1zM1039 870h1v1h-1zM1385 870h2v1h-2zM288 871h3v1h-3zM293 871h2v1h-2zM658 871h1v1h-1zM664 871h3v1h-3zM670 871h2v1h-2zM721 871h1v1h-1zM999 871h1v1h-1zM1032 871h2v1h-2zM1038 871h1v1h-1zM1383 871h2v1h-2zM107 872h1v1h-1zM286 872h2v1h-2zM295 872h1v1h-1zM659 872h1v1h-1zM662 872h2v1h-2zM672 872h3v1h-3zM997 872h2v1h-2zM1034 872h2v1h-2zM1037 872h1v1h-1zM1381 872h2v1h-2zM282 873h4v1h-4zM296 873h2v1h-2zM660 873h2v1h-2zM675 873h2v1h-2zM996 873h1v1h-1zM1036 873h1v1h-1zM1380 873h1v1h-1zM278 874h4v1h-4zM298 874h2v1h-2zM677 874h2v1h-2zM719 874h1v1h-1zM995 874h1v1h-1zM276 875h2v1h-2zM679 875h2v1h-2zM718 875h1v1h-1zM994 875h1v1h-1zM681 876h2v1h-2zM717 876h1v1h-1zM992 876h2v1h-2zM683 877h2v1h-2zM704 877h13v1h-13zM991 877h1v1h-1zM685 878h1v1h-1zM700 878h4v1h-4zM990 878h1v1h-1zM686 879h2v1h-2zM698 879h2v1h-2zM989 879h1v1h-1zM688 880h1v1h-1zM696 880h2v1h-2zM689 881h1v1h-1zM695 881h1v1h-1zM690 882h2v1h-2zM693 882h2v1h-2zM692 883h1v1h-1z" fill="#1E90FF" shape-rendering="crispEdges"/>
<g>
</g>
<g shape-rendering="crispEdges">
<rect x="0" y="27" width="1606" height="1" fill="#000" />
<rect x="1605" y="27" width="1" height="554" fill="#000" />
<rect x="1605" y="582" width="1" height="171" fill="#000" />
<rect x="1605" y="754" width="1" height="175" fill="#000" />
<rect x="0" y="580" width="1606" height="1" fill="#000" />
<rect x="0" y="582" width="1606" height="1" fill="#000" />
<rect x="0" y="752" width="1606" height="1" fill="#000" />
<rect x="0" y="754" width="1606" height="1" fill="#000" />
<rect x="0" y="928" width="1606" height="1" fill="#000" />
<rect x="1605" y="790" width="1" height="1" fill="#fff" />
<rect x="1605" y="841" width="1" height="1" fill="#fff" />
<rect x="1605" y="902" width="1" height="1" fill="#fff" />
<rect x="1606" y="49" width="2" height="1" fill="#000" />
<rect x="1606" y="82" width="2" height="1" fill="#000" />
<rect x="1606" y="115" width="2" height="1" fill="#000" />
<rect x="1606" y="148" width="2" height="1" fill="#000" />
<rect x="1606" y="181" width="2" height="1" fill="#000" />
<rect x="1606" y="214" width="2" height="1" fill="#000" />
<rect x="1606" y="247" width="2" height="1" fill="#000" />
<rect x="1606" y="280" width="2" height="1" fill="#000" />
<rect x="1606" y="313" width="2" height="1" fill="#000" />
<rect x="1606" y="346" width="2" height="1" fill="#000" />
<rect x="1606" y="379" width="2" height="1" fill="#000" />
<rect x="1606" y="412" width="2" height="1" fill="#000" />
<rect x="1606" y="445" width="2" height="1" fill="#000" />
<rect x="1606" y="478" width="2" height="1" fill="#000" />
<rect x="1606" y="511" width="2" height="1" fill="#000" />
<rect x="1606" y="544" width="2" height="1" fill="#000" />
<rect x="1606" y="577" width="2" height="1" fill="#000" />
<rect x="1606" y="686" width="2" height="1" fill="#000" />
<rect x="1606" y="584" width="1" height="1" fill="#000" />
<rect x="1606" y="751" width="1" height="1" fill="#000" />
<rect x="1606" y="756" width="1" height="1" fill="#000" />
<rect x="1606" y="927" width="1" height="1" fill="#000" />
<rect x="60" y="929" width="1" height="3" fill="#000" />
<rect x="124" y="929" width="1" height="3" fill="#000" />
<rect x="188" y="929" width="1" height="3" fill="#000" />
<rect x="252" y="929" width="1" height="3" fill="#000" />
<rect x="316" y="929" width="1" height="3" fill="#000" />
<rect x="380" y="929" width="1" height="3" fill="#000" />
<rect x="444" y="929" width="1" height="3" fill="#000" />
<rect x="508" y="929" width="1" height="3" fill="#000" />
<rect x="572" y="929" width="1" height="3" fill="#000" />
<rect x="636" y="929" width="1" height="3" fill="#000" />
<rect x="700" y="929" width="1" height="3" fill="#000" />
<rect x="764" y="929" width="1" height="3" fill="#000" />
<rect x="828" y="929" width="1" height="3" fill="#000" />
<rect x="892" y="929" width="1" height="3" fill="#000" />
<rect x="956" y="929" width="1" height="3" fill="#000" />
<rect x="1020" y="929" width="1" height="3" fill="#000" />
<rect x="1084" y="929" width="1" height="3" fill="#000" />
<rect x="1148" y="929" width="1" height="3" fill="#000" />
<rect x="1212" y="929" width="1" height="3" fill="#000" />
<rect x="1276" y="929" width="1" height="3" fill="#000" />
<rect x="1340" y="929" width="1" height="3" fill="#000" />
</g>
<text x="1611.3" y="53" font-size="10" fill="#000" textLength="32.8" lengthAdjust="spacingAndGlyphs" text-rendering="geometricPrecision" >1.32075</text>
<text x="1611.3" y="86" font-size="10" fill="#000" textLength="32.8" lengthAdjust="spacingAndGlyphs" text-rendering="geometricPrecision" >1.31770</text>
<text x="1611.3" y="119" font-size="10" fill="#000" textLength="32.8" lengthAdjust="spacingAndGlyphs" text-rendering="geometricPrecision" >1.31460</text>
<text x="1611.3" y="152" font-size="10" fill="#000" textLength="32.8" lengthAdjust="spacingAndGlyphs" text-rendering="geometricPrecision" >1.31150</text>
<text x="1611.3" y="185" font-size="10" fill="#000" textLength="32.8" lengthAdjust="spacingAndGlyphs" text-rendering="geometricPrecision" >1.30840</text>
<text x="1611.3" y="218" font-size="10" fill="#000" textLength="32.8" lengthAdjust="spacingAndGlyphs" text-rendering="geometricPrecision" >1.30535</text>
<text x="1611.3" y="251" font-size="10" fill="#000" textLength="32.8" lengthAdjust="spacingAndGlyphs" text-rendering="geometricPrecision" >1.30225</text>
<text x="1611.3" y="284" font-size="10" fill="#000" textLength="32.8" lengthAdjust="spacingAndGlyphs" text-rendering="geometricPrecision" >1.29915</text>
<text x="1611.3" y="317" font-size="10" fill="#000" textLength="32.8" lengthAdjust="spacingAndGlyphs" text-rendering="geometricPrecision" >1.29610</text>
<text x="1611.3" y="350" font-size="10" fill="#000" textLength="32.8" lengthAdjust="spacingAndGlyphs" text-rendering="geometricPrecision" >1.29300</text>
<text x="1611.3" y="383" font-size="10" fill="#000" textLength="32.8" lengthAdjust="spacingAndGlyphs" text-rendering="geometricPrecision" >1.28990</text>
<text x="1611.3" y="416" font-size="10" fill="#000" textLength="32.8" lengthAdjust="spacingAndGlyphs" text-rendering="geometricPrecision" >1.28685</text>
<text x="1611.3" y="449" font-size="10" fill="#000" textLength="32.8" lengthAdjust="spacingAndGlyphs" text-rendering="geometricPrecision" >1.28375</text>
<text x="1611.3" y="482" font-size="10" fill="#000" textLength="32.8" lengthAdjust="spacingAndGlyphs" text-rendering="geometricPrecision" >1.28065</text>
<text x="1611.3" y="515" font-size="10" fill="#000" textLength="32.8" lengthAdjust="spacingAndGlyphs" text-rendering="geometricPrecision" >1.27760</text>
<text x="1611.3" y="548" font-size="10" fill="#000" textLength="32.8" lengthAdjust="spacingAndGlyphs" text-rendering="geometricPrecision" >1.27450</text>
<text x="1611.3" y="581" font-size="10" fill="#000" textLength="32.8" lengthAdjust="spacingAndGlyphs" text-rendering="geometricPrecision" >1.27140</text>
<g shape-rendering="crispEdges">
<rect x="1607" y="380" width="41" height="11" fill="#FF4500" />
<rect x="1600" y="384" width="5" height="5" fill="#FF4500" />
<rect x="1601" y="385" width="3" height="3" fill="#fff" />
<rect x="1607" y="409" width="41" height="11" fill="#FF0000" />
<rect x="1600" y="413" width="5" height="5" fill="#FF0000" />
<rect x="1601" y="414" width="3" height="3" fill="#fff" />
<rect x="1607" y="432" width="41" height="11" fill="#32CD32" />
<rect x="1600" y="436" width="5" height="5" fill="#32CD32" />
<rect x="1601" y="437" width="3" height="3" fill="#fff" />
<rect x="1607" y="461" width="41" height="11" fill="#000" />
<rect x="1607" y="498" width="41" height="11" fill="#0000FF" />
<rect x="1600" y="502" width="5" height="5" fill="#0000FF" />
<rect x="1601" y="503" width="3" height="3" fill="#fff" />
<rect x="1607" y="531" width="41" height="11" fill="#0000FF" />
<rect x="1600" y="535" width="5" height="5" fill="#0000FF" />
<rect x="1601" y="536" width="3" height="3" fill="#fff" />
</g>
<text x="1611.5" y="389" font-size="10" fill="#fff" textLength="32.4" lengthAdjust="spacingAndGlyphs" text-rendering="geometricPrecision" >1.28930</text>
<text x="1611.5" y="418" font-size="10" fill="#fff" textLength="32.4" lengthAdjust="spacingAndGlyphs" text-rendering="geometricPrecision" >1.28659</text>
<text x="1611.5" y="441" font-size="10" fill="#fff" textLength="32.4" lengthAdjust="spacingAndGlyphs" text-rendering="geometricPrecision" >1.28445</text>
<text x="1611.5" y="470" font-size="10" fill="#fff" textLength="32.4" lengthAdjust="spacingAndGlyphs" text-rendering="geometricPrecision" >1.28183</text>
<text x="1611.5" y="507" font-size="10" fill="#fff" textLength="32.4" lengthAdjust="spacingAndGlyphs" text-rendering="geometricPrecision" >1.27829</text>
<text x="1611.5" y="540" font-size="10" fill="#fff" textLength="32.4" lengthAdjust="spacingAndGlyphs" text-rendering="geometricPrecision" >1.27521</text>
<text x="1609" y="593" font-size="10" fill="#000" textLength="37.8" lengthAdjust="spacingAndGlyphs" text-rendering="geometricPrecision" >0.007586</text>
<text x="1609" y="690" font-size="10" fill="#000" textLength="18.3" lengthAdjust="spacingAndGlyphs" text-rendering="geometricPrecision" >0.00</text>
<text x="1609" y="749" font-size="10" fill="#000" textLength="41" lengthAdjust="spacingAndGlyphs" text-rendering="geometricPrecision" >-0.004906</text>
<text x="1609.4" y="765" font-size="10" fill="#000" textLength="14.6" lengthAdjust="spacingAndGlyphs" text-rendering="geometricPrecision" >100</text>
<text x="1608.4" y="794" font-size="10" fill="#000" textLength="9.8" lengthAdjust="spacingAndGlyphs" text-rendering="geometricPrecision" >80</text>
<text x="1608.4" y="845" font-size="10" fill="#000" textLength="9.8" lengthAdjust="spacingAndGlyphs" text-rendering="geometricPrecision" >50</text>
<text x="1608.4" y="906" font-size="10" fill="#000" textLength="9.6" lengthAdjust="spacingAndGlyphs" text-rendering="geometricPrecision" >15</text>
<text x="1609" y="925" font-size="10" fill="#000" textLength="4.8" lengthAdjust="spacingAndGlyphs" text-rendering="geometricPrecision" >0</text>
<text x="0.5" y="595" font-size="10" fill="#000" textLength="153" lengthAdjust="spacingAndGlyphs" text-rendering="geometricPrecision" >MACD(12,26,9) -0.003440 -0.000611</text>
<text x="0.5" y="767" font-size="10" fill="#000" textLength="67.5" lengthAdjust="spacingAndGlyphs" text-rendering="geometricPrecision" >RSI(14) 34.3632</text>
<text x="-4.8" y="941" font-size="10" fill="#000" textLength="49.6" lengthAdjust="spacingAndGlyphs" text-rendering="geometricPrecision" >30 Jan 2020</text>
<text x="59" y="941" font-size="10" fill="#000" textLength="50" lengthAdjust="spacingAndGlyphs" text-rendering="geometricPrecision" >3 Feb 04:00</text>
<text x="123" y="941" font-size="10" fill="#000" textLength="50" lengthAdjust="spacingAndGlyphs" text-rendering="geometricPrecision" >4 Feb 12:00</text>
<text x="187" y="941" font-size="10" fill="#000" textLength="50" lengthAdjust="spacingAndGlyphs" text-rendering="geometricPrecision" >5 Feb 20:00</text>
<text x="251" y="941" font-size="10" fill="#000" textLength="50" lengthAdjust="spacingAndGlyphs" text-rendering="geometricPrecision" >7 Feb 04:00</text>
<text x="315" y="941" font-size="10" fill="#000" textLength="55" lengthAdjust="spacingAndGlyphs" text-rendering="geometricPrecision" >10 Feb 12:00</text>
<text x="379" y="941" font-size="10" fill="#000" textLength="55" lengthAdjust="spacingAndGlyphs" text-rendering="geometricPrecision" >11 Feb 20:00</text>
<text x="443" y="941" font-size="10" fill="#000" textLength="55" lengthAdjust="spacingAndGlyphs" text-rendering="geometricPrecision" >13 Feb 04:00</text>
<text x="507" y="941" font-size="10" fill="#000" textLength="55" lengthAdjust="spacingAndGlyphs" text-rendering="geometricPrecision" >14 Feb 12:00</text>
<text x="571" y="941" font-size="10" fill="#000" textLength="55" lengthAdjust="spacingAndGlyphs" text-rendering="geometricPrecision" >17 Feb 20:00</text>
<text x="635" y="941" font-size="10" fill="#000" textLength="55" lengthAdjust="spacingAndGlyphs" text-rendering="geometricPrecision" >19 Feb 04:00</text>
<text x="699" y="941" font-size="10" fill="#000" textLength="55" lengthAdjust="spacingAndGlyphs" text-rendering="geometricPrecision" >20 Feb 12:00</text>
<text x="763" y="941" font-size="10" fill="#000" textLength="55" lengthAdjust="spacingAndGlyphs" text-rendering="geometricPrecision" >23 Feb 23:00</text>
<text x="827" y="941" font-size="10" fill="#000" textLength="55" lengthAdjust="spacingAndGlyphs" text-rendering="geometricPrecision" >25 Feb 04:00</text>
<text x="891" y="941" font-size="10" fill="#000" textLength="55" lengthAdjust="spacingAndGlyphs" text-rendering="geometricPrecision" >26 Feb 12:00</text>
<text x="955" y="941" font-size="10" fill="#000" textLength="55" lengthAdjust="spacingAndGlyphs" text-rendering="geometricPrecision" >27 Feb 20:00</text>
<text x="1019" y="941" font-size="10" fill="#000" textLength="50" lengthAdjust="spacingAndGlyphs" text-rendering="geometricPrecision" >2 Mar 04:00</text>
<text x="1083" y="941" font-size="10" fill="#000" textLength="50" lengthAdjust="spacingAndGlyphs" text-rendering="geometricPrecision" >3 Mar 12:00</text>
<text x="1147" y="941" font-size="10" fill="#000" textLength="50" lengthAdjust="spacingAndGlyphs" text-rendering="geometricPrecision" >4 Mar 20:00</text>
<text x="1211" y="941" font-size="10" fill="#000" textLength="50" lengthAdjust="spacingAndGlyphs" text-rendering="geometricPrecision" >6 Mar 04:00</text>
<text x="1275" y="941" font-size="10" fill="#000" textLength="50" lengthAdjust="spacingAndGlyphs" text-rendering="geometricPrecision" >9 Mar 12:00</text>
<text x="1339" y="941" font-size="10" fill="#000" textLength="55" lengthAdjust="spacingAndGlyphs" text-rendering="geometricPrecision" >10 Mar 20:00</text>
<path d="M1405.5,28 L1415.5,28 L1410.5,33.2 Z" fill="#BBBBBB"/>
<path d="M0.5,38.5 L6.5,38.5 L3.5,35 Z" fill="#000"/>
<text x="11.5" y="39" font-size="10" fill="#000" textLength="56" lengthAdjust="spacingAndGlyphs" text-rendering="geometricPrecision" >GBPUSD-,H4</text>
<text x="74.5" y="39" font-size="10" fill="#000" textLength="140.5" lengthAdjust="spacingAndGlyphs" text-rendering="geometricPrecision" >1.28162 1.28188 1.28161 1.28183</text>
<defs>
<linearGradient id="gbtn" x1="0" y1="0" x2="0" y2="1"><stop offset="0" stop-color="#FA5252"/><stop offset="1" stop-color="#DC2C2C"/></linearGradient>
<linearGradient id="gprice" x1="0" y1="0" x2="0" y2="1"><stop offset="0" stop-color="#DC2C2C"/><stop offset="0.55" stop-color="#C81818"/><stop offset="1" stop-color="#AC0000"/></linearGradient>
<linearGradient id="gspin" x1="0" y1="0" x2="0" y2="1"><stop offset="0" stop-color="#F4F4F4"/><stop offset="0.5" stop-color="#E2E2E2"/><stop offset="0.5" stop-color="#D2D2D2"/><stop offset="1" stop-color="#C4C4C4"/></linearGradient>
</defs>
<g shape-rendering="crispEdges">
<rect x="0" y="111" width="220" height="2" fill="#fff" />
<rect x="218" y="47" width="2" height="66" fill="#fff" />
<rect x="0" y="47" width="51" height="25" fill="url(#gbtn)" />
<rect x="166" y="47" width="52" height="25" fill="url(#gbtn)" />
<rect x="0" y="71" width="108" height="40" fill="url(#gprice)" />
<rect x="110" y="71" width="108" height="40" fill="url(#gprice)" />
<rect x="3" y="71" width="44" height="1" fill="#F08080" />
<rect x="170" y="71" width="44" height="1" fill="#F08080" />
<rect x="51" y="47" width="115" height="24" fill="#fff" />
<rect x="53" y="47" width="112" height="22" fill="#A8A8A8" />
<rect x="54" y="48" width="110" height="20" fill="#fff" />
<rect x="54" y="48" width="20" height="20" fill="url(#gspin)" />
<rect x="74" y="48" width="1" height="20" fill="#A8A8A8" />
<rect x="143" y="48" width="21" height="20" fill="url(#gspin)" />
<rect x="142" y="48" width="1" height="20" fill="#A8A8A8" />
</g>
<path d="M61,56 L66.6,56 L63.8,59.6 Z" fill="#4A5AC8"/>
<path d="M149.6,59.4 L155.4,59.4 L152.5,55.8 Z" fill="#4A5AC8"/>
<text x="138.5" y="62.3" font-size="12.6" fill="#000" text-anchor="end" textLength="23.5" lengthAdjust="spacingAndGlyphs" >1.00</text>
<text x="11" y="63" font-size="12.8" fill="#fff" textLength="26.6" lengthAdjust="spacingAndGlyphs" >SELL</text>
<text x="179.4" y="63" font-size="12.8" fill="#fff" textLength="24" lengthAdjust="spacingAndGlyphs" >BUY</text>
<text x="19.2" y="101.6" font-size="11.4" fill="#fff" textLength="24" lengthAdjust="spacingAndGlyphs" font-weight="bold" >1.28</text>
<text x="46" y="102.2" font-size="32.8" fill="#fff" textLength="36.6" lengthAdjust="spacingAndGlyphs" >18</text>
<text x="86.6" y="86" font-size="10.5" fill="#fff" textLength="6" lengthAdjust="spacingAndGlyphs" font-weight="bold" text-rendering="geometricPrecision" >3</text>
<text x="129.2" y="101.6" font-size="11.4" fill="#fff" textLength="24" lengthAdjust="spacingAndGlyphs" font-weight="bold" >1.28</text>
<text x="156.6" y="102.2" font-size="32.8" fill="#fff" textLength="36.6" lengthAdjust="spacingAndGlyphs" >22</text>
<text x="197" y="86" font-size="10.5" fill="#fff" textLength="6.5" lengthAdjust="spacingAndGlyphs" font-weight="bold" text-rendering="geometricPrecision" >6</text>
<g shape-rendering="crispEdges">
<rect x="0" y="0" width="1652" height="22" fill="#F0F0F0" />
<rect x="0" y="22" width="1652" height="1" fill="#D4D4D4" />
<rect x="0" y="23" width="1652" height="1" fill="#A0A0A0" />
<rect x="0" y="24" width="1652" height="1" fill="#868686" />
<rect x="0" y="25" width="1652" height="2" fill="#FCFCFC" />
<rect x="1651" y="25" width="1" height="926" fill="#E6E6E6" />
<rect x="0" y="949" width="1652" height="2" fill="#E9E9E9" />
</g>
<defs>
<pattern id="chk" width="2" height="2" patternUnits="userSpaceOnUse"><rect width="2" height="2" fill="#F7F7F7"/><rect width="1" height="1" fill="#FFFFFF"/><rect x="1" y="1" width="1" height="1" fill="#FFFFFF"/></pattern>
<linearGradient id="gold" x1="0" y1="0" x2="1" y2="1"><stop offset="0" stop-color="#FFF0A0"/><stop offset="0.5" stop-color="#E8B830"/><stop offset="1" stop-color="#B07808"/></linearGradient>
<radialGradient id="lens" cx="0.4" cy="0.35" r="0.7"><stop offset="0" stop-color="#FFFFFF"/><stop offset="1" stop-color="#A8D4F0"/></radialGradient>
<radialGradient id="clk" cx="0.5" cy="0.4" r="0.6"><stop offset="0" stop-color="#FFFFFF"/><stop offset="0.75" stop-color="#E8F0FA"/><stop offset="1" stop-color="#B8CCE8"/></radialGradient>
</defs>
<text x="-4.6" y="14.4" font-size="12.6" fill="#000" stroke="#000" stroke-width="0.3" textLength="36.6" lengthAdjust="spacing" style="font-family:'Liberation Sans','Noto Sans CJK SC',sans-serif">新订单</text>
<path d="M43,12.2 L51.5,4.2 L59.2,11.4 L50.8,19 Z" fill="url(#gold)" stroke="#A87818" stroke-width="0.8"/><path d="M43.3,13.2 L50.8,19.8 L59,12.6" fill="none" stroke="#8A6010" stroke-width="1"/>
<rect x="73.8" y="3.6" width="9.2" height="10" rx="1" fill="#2A8CE8" stroke="#1868C0" stroke-width="0.8"/><rect x="76" y="6" width="5.4" height="2.4" fill="#CFE8FF"/>
<path d="M73,18.2 a3,3 0 0 1 0.4,-5.8 a3.6,3.6 0 0 1 6.6,-1.2 a3,3 0 0 1 4.6,2.2 a2.5,2.5 0 0 1 -0.6,4.8 Z" fill="#F4F8FF" stroke="#7C98C8" stroke-width="0.9"/>
<g fill="none"><circle cx="107" cy="10.6" r="7.3" stroke="#7CA0D8" stroke-width="1"/><circle cx="107" cy="10.6" r="4.6" stroke="#4C7CD0" stroke-width="1.1"/><path d="M107,18 A7.4,7.4 0 0 0 114.3,11" stroke="#58B050" stroke-width="1.4"/><circle cx="107" cy="10.4" r="1.5" fill="#2858C0"/><line x1="107.4" y1="11" x2="107.4" y2="18.4" stroke="#30A030" stroke-width="1.4"/></g>
<path d="M127,9 L140.6,9 L134.6,18 L131.4,18 Z" fill="#F4D050" stroke="#C89818" stroke-width="0.8"/><ellipse cx="134" cy="7.6" rx="7.6" ry="2.6" fill="#5890D0" stroke="#3868B0" stroke-width="0.7"/><ellipse cx="134" cy="5.6" rx="3.6" ry="2.4" fill="#6CA0DC"/>
<circle cx="138.6" cy="14.6" r="4.2" fill="#E02020"/><rect x="136.7" y="12.8" width="3.7" height="3.6" fill="#fff"/>
<text x="147.3" y="14.2" font-size="12.2" fill="#000" stroke="#000" stroke-width="0.3" textLength="46.8" lengthAdjust="spacing" style="font-family:'Liberation Sans','Noto Sans CJK SC',sans-serif">自动交易</text>
<rect x="202" y="2" width="1" height="19" fill="#A0A0A0" shape-rendering="crispEdges"/><rect x="203" y="2" width="1" height="19" fill="#FFFFFF" shape-rendering="crispEdges"/>
<g shape-rendering="crispEdges">
<rect x="206" y="2" width="3" height="1" fill="#B8B8B8" />
<rect x="206" y="4" width="3" height="1" fill="#B8B8B8" />
<rect x="206" y="6" width="3" height="1" fill="#B8B8B8" />
<rect x="206" y="8" width="3" height="1" fill="#B8B8B8" />
<rect x="206" y="10" width="3" height="1" fill="#B8B8B8" />
<rect x="206" y="12" width="3" height="1" fill="#B8B8B8" />
<rect x="206" y="14" width="3" height="1" fill="#B8B8B8" />
<rect x="206" y="16" width="3" height="1" fill="#B8B8B8" />
<rect x="206" y="18" width="3" height="1" fill="#B8B8B8" />
<rect x="206" y="20" width="3" height="1" fill="#B8B8B8" />
</g>
<g stroke="#505050" stroke-width="1.1" fill="#505050"><line x1="220.6" y1="6" x2="220.6" y2="18.6"/><line x1="218.2" y1="16.1" x2="230.6" y2="16.1"/><path d="M218.79999999999998,7 L220.6,4.6 L222.4,7 Z" stroke="none"/><path d="M229.6,14.4 L232.2,16.1 L229.6,17.8 Z" stroke="none"/></g>
<path d="M224.3,13 L226.4,13 L226.4,7.2 L228.8,7.2" fill="none" stroke="#209838" stroke-width="1.5"/>
<rect x="240" y="2" width="1" height="19" fill="#A0A0A0" shape-rendering="crispEdges"/><rect x="241" y="2" width="1" height="19" fill="#FFFFFF" shape-rendering="crispEdges"/>
<rect x="242" y="0" width="23" height="22" fill="url(#chk)" shape-rendering="crispEdges"/>
<g stroke="#505050" stroke-width="1.1" fill="#505050"><line x1="248.4" y1="6" x2="248.4" y2="18.6"/><line x1="246.0" y1="16.1" x2="258.4" y2="16.1"/><path d="M246.6,7 L248.4,4.6 L250.20000000000002,7 Z" stroke="none"/><path d="M257.4,14.4 L260.0,16.1 L257.4,17.8 Z" stroke="none"/></g>
<line x1="254.5" y1="3" x2="254.5" y2="14.8" stroke="#107020" stroke-width="1"/><rect x="252.3" y="5.4" width="4.4" height="7.2" fill="#30D850" stroke="#107020" stroke-width="0.8"/>
<g stroke="#505050" stroke-width="1.1" fill="#505050"><line x1="276.5" y1="6" x2="276.5" y2="18.6"/><line x1="274.1" y1="16.1" x2="286.5" y2="16.1"/><path d="M274.7,7 L276.5,4.6 L278.3,7 Z" stroke="none"/><path d="M285.5,14.4 L288.1,16.1 L285.5,17.8 Z" stroke="none"/></g>
<path d="M275.3,13.6 C278,10 280,7.4 282,8 C284,8.6 285.4,11 286.9,12.1" fill="none" stroke="#209838" stroke-width="1.2"/>
<rect x="297" y="2" width="1" height="19" fill="#A0A0A0" shape-rendering="crispEdges"/><rect x="298" y="2" width="1" height="19" fill="#FFFFFF" shape-rendering="crispEdges"/>
<line x1="316" y1="13.2" x2="321" y2="18.2" stroke="#C8A020" stroke-width="2.6" stroke-linecap="round"/><line x1="316.4" y1="12.8" x2="321" y2="17.4" stroke="#F0D060" stroke-width="1" stroke-linecap="round"/>
<circle cx="312" cy="9" r="5.2" fill="url(#lens)" stroke="#3080D0" stroke-width="1.3"/>
<line x1="309.2" y1="9" x2="314.8" y2="9" stroke="#2868B8" stroke-width="1.5"/>
<line x1="312" y1="6.2" x2="312" y2="11.8" stroke="#2868B8" stroke-width="1.5"/>
<line x1="343.8" y1="13.2" x2="348.8" y2="18.2" stroke="#C8A020" stroke-width="2.6" stroke-linecap="round"/><line x1="344.2" y1="12.8" x2="348.8" y2="17.4" stroke="#F0D060" stroke-width="1" stroke-linecap="round"/>
<circle cx="339.8" cy="9" r="5.2" fill="url(#lens)" stroke="#3080D0" stroke-width="1.3"/>
<line x1="337.0" y1="9" x2="342.6" y2="9" stroke="#2868B8" stroke-width="1.5"/>
<rect x="362.3" y="3.4" width="7.6" height="7.5" fill="#48A028"/><rect x="362.3" y="3.4" width="7.6" height="2" fill="#2C7810"/><rect x="363.7" y="6.4" width="4.8" height="3.2" fill="#fff" opacity="0.92"/><rect x="364.5" y="7.6" width="3.2" height="0.8" fill="#48A028"/>
<rect x="370.4" y="3.4" width="7.6" height="7.5" fill="#2860D0"/><rect x="370.4" y="3.4" width="7.6" height="2" fill="#1840A0"/><rect x="371.79999999999995" y="6.4" width="4.8" height="3.2" fill="#fff" opacity="0.92"/><rect x="372.59999999999997" y="7.6" width="3.2" height="0.8" fill="#2860D0"/>
<rect x="362.3" y="11.3" width="7.6" height="7.5" fill="#2860D0"/><rect x="362.3" y="11.3" width="7.6" height="2" fill="#1840A0"/><rect x="363.7" y="14.3" width="4.8" height="3.2" fill="#fff" opacity="0.92"/><rect x="364.5" y="15.5" width="3.2" height="0.8" fill="#2860D0"/>
<rect x="370.4" y="11.3" width="7.6" height="7.5" fill="#48A028"/><rect x="370.4" y="11.3" width="7.6" height="2" fill="#2C7810"/><rect x="371.79999999999995" y="14.3" width="4.8" height="3.2" fill="#fff" opacity="0.92"/><rect x="372.59999999999997" y="15.5" width="3.2" height="0.8" fill="#48A028"/>
<rect x="387" y="2" width="1" height="19" fill="#A0A0A0" shape-rendering="crispEdges"/><rect x="388" y="2" width="1" height="19" fill="#FFFFFF" shape-rendering="crispEdges"/>
<rect x="392" y="0" width="25" height="22" fill="url(#chk)" shape-rendering="crispEdges"/>
<g stroke="#505050" stroke-width="1.1" fill="#505050"><line x1="400.3" y1="6" x2="400.3" y2="18.6"/><line x1="397.90000000000003" y1="16.1" x2="410.3" y2="16.1"/><path d="M398.5,7 L400.3,4.6 L402.1,7 Z" stroke="none"/><path d="M409.3,14.4 L411.90000000000003,16.1 L409.3,17.8 Z" stroke="none"/></g>
<path d="M405.2,7.4 L409,10.6 L405.2,13.6 Z" fill="none" stroke="#28A038" stroke-width="1.1"/>
<rect x="418" y="2" width="1" height="19" fill="#A0A0A0" shape-rendering="crispEdges"/><rect x="419" y="2" width="1" height="19" fill="#FFFFFF" shape-rendering="crispEdges"/>
<rect x="421" y="0" width="24" height="22" fill="url(#chk)" shape-rendering="crispEdges"/>
<g stroke="#505050" stroke-width="1.1" fill="#505050"><line x1="428.5" y1="6" x2="428.5" y2="18.6"/><line x1="426.1" y1="16.1" x2="438.5" y2="16.1"/><path d="M426.7,7 L428.5,4.6 L430.3,7 Z" stroke="none"/><path d="M437.5,14.4 L440.1,16.1 L437.5,17.8 Z" stroke="none"/></g>
<line x1="434.6" y1="5" x2="434.6" y2="15" stroke="#2060B0" stroke-width="1.2"/><path d="M435.6,10.3 L438.4,8.2 L438.4,9.7 L440,9.7 L440,10.9 L438.4,10.9 L438.4,12.4 Z" fill="#E86010"/>
<rect x="449" y="2" width="1" height="19" fill="#A0A0A0" shape-rendering="crispEdges"/><rect x="450" y="2" width="1" height="19" fill="#FFFFFF" shape-rendering="crispEdges"/>
<path d="M459.4,4 L466.8,4 L469.6,6.6 L469.6,16 L459.4,16 Z" fill="#F8F8F8" stroke="#909090" stroke-width="0.9"/><text x="461" y="12.4" font-size="8" font-style="italic" fill="#505050" font-family="Liberation Serif, serif">f</text>
<path d="M467.4,9 L471,9 L471,12.7 L474.7,12.7 L474.7,16.3 L471,16.3 L471,20 L467.4,20 L467.4,16.3 L463.8,16.3 L463.8,12.7 L467.4,12.7 Z" fill="#30C830" stroke="#108810" stroke-width="0.8"/>
<path d="M481,10 L486.4,10 L483.7,13 Z" fill="#000"/>
<circle cx="505" cy="11" r="7.4" fill="url(#clk)" stroke="#1860C8" stroke-width="2"/><path d="M505,6.6 L505,11.2 L508.2,12.6" fill="none" stroke="#404040" stroke-width="1.1"/>
<path d="M520,10 L525.4,10 L522.7,13 Z" fill="#000"/>
<rect x="536.6" y="4.4" width="15.2" height="13.4" fill="#fff" stroke="#3870C0" stroke-width="1"/><rect x="536.6" y="4.4" width="15.2" height="2.2" fill="#4C88D8"/><line x1="537" y1="11.6" x2="551.4" y2="11.6" stroke="#3870C0" stroke-width="0.9"/><path d="M538.6,10 L541,9.2 L543,9.6 L545,8.4 L547,8.8 L550,8" fill="none" stroke="#B02010" stroke-width="1.1"/><path d="M538.6,15.6 L541,14.2 L543,15.4 L545.6,13.4 L548,15 L550,14.6" fill="none" stroke="#209030" stroke-width="1.1"/>
<path d="M559,10 L564.4,10 L561.7,13 Z" fill="#000"/>
<rect x="570" y="2" width="1" height="19" fill="#A0A0A0" shape-rendering="crispEdges"/><rect x="571" y="2" width="1" height="19" fill="#FFFFFF" shape-rendering="crispEdges"/>
<g shape-rendering="crispEdges">
<rect x="574" y="2" width="3" height="1" fill="#B8B8B8" />
<rect x="574" y="4" width="3" height="1" fill="#B8B8B8" />
<rect x="574" y="6" width="3" height="1" fill="#B8B8B8" />
<rect x="574" y="8" width="3" height="1" fill="#B8B8B8" />
<rect x="574" y="10" width="3" height="1" fill="#B8B8B8" />
<rect x="574" y="12" width="3" height="1" fill="#B8B8B8" />
<rect x="574" y="14" width="3" height="1" fill="#B8B8B8" />
<rect x="574" y="16" width="3" height="1" fill="#B8B8B8" />
<rect x="574" y="18" width="3" height="1" fill="#B8B8B8" />
<rect x="574" y="20" width="3" height="1" fill="#B8B8B8" />
</g>
<rect x="581" y="0" width="24" height="22" fill="url(#chk)" shape-rendering="crispEdges"/>
<rect x="580" y="1" width="1" height="20" fill="#909090" shape-rendering="crispEdges"/>
<path d="M589,3.6 L589,15.2 L591.8,12.6 L593.8,17 L595.4,16.2 L593.5,12 L597,11.8 Z" fill="#383838"/>
<g stroke="#404040" stroke-width="1" shape-rendering="crispEdges"><line x1="620.5" y1="4" x2="620.5" y2="19"/><line x1="613" y1="11.5" x2="628" y2="11.5"/></g>
<rect x="637" y="2" width="1" height="19" fill="#A0A0A0" shape-rendering="crispEdges"/><rect x="638" y="2" width="1" height="19" fill="#FFFFFF" shape-rendering="crispEdges"/>
<line x1="654.5" y1="5" x2="654.5" y2="18" stroke="#404040" stroke-width="1" shape-rendering="crispEdges"/>
<line x1="677" y1="11.5" x2="690" y2="11.5" stroke="#404040" stroke-width="1" shape-rendering="crispEdges"/>
<line x1="704" y1="17.6" x2="717.6" y2="6" stroke="#404040" stroke-width="1"/>
<g stroke="#505050" stroke-width="0.9" fill="none"><line x1="730.5" y1="14" x2="745" y2="4"/><line x1="731.5" y1="17.5" x2="746" y2="7.5"/><line x1="734.5" y1="6" x2="734.5" y2="17"/><line x1="738" y1="4" x2="738" y2="15"/><line x1="741.5" y1="3" x2="741.5" y2="13"/></g>
<path d="M742,15h4v1h-3v1h2.5v1h-2.5v1h3v1h-4z" fill="#202020"/>
<g stroke="#606060" stroke-width="1" stroke-dasharray="1,1" shape-rendering="crispEdges"><line x1="760" y1="4.5" x2="773" y2="4.5"/><line x1="760" y1="7.5" x2="773" y2="7.5"/><line x1="760" y1="11.5" x2="773" y2="11.5"/><line x1="760" y1="15.5" x2="769" y2="15.5"/></g>
<path d="M770,15h4v1h-3v1h2.5v1h-2.5v2h-1z" fill="#202020"/>
<text x="790.3" y="15.8" font-size="12.4" fill="#606060" textLength="8.4" lengthAdjust="spacingAndGlyphs" stroke="#606060" stroke-width="0.5">A</text>
<rect x="816.5" y="4.5" width="12" height="13" fill="none" stroke="#606060" stroke-width="1" stroke-dasharray="1,1" shape-rendering="crispEdges"/>
<text x="818.4" y="16" font-size="12" fill="#606060" textLength="8.6" lengthAdjust="spacingAndGlyphs" stroke="#606060" stroke-width="0.6">T</text>
<path d="M843.8,7.6 L847.1,4.6 L850.4,7.6 L847.1,10.6 Z M851.1,15.2 L854.4,12.2 L857.7,15.2 L854.4,18.2 Z" fill="#404040"/><path d="M846.9,11.5 L849.9,14.5 L853,10.8" stroke="#404040" stroke-width="1.3" fill="none"/>
<path d="M864.5,10 L869.9,10 L867.2,13 Z" fill="#000"/>
<rect x="876" y="2" width="1" height="19" fill="#A0A0A0" shape-rendering="crispEdges"/><rect x="877" y="2" width="1" height="19" fill="#FFFFFF" shape-rendering="crispEdges"/>
<g shape-rendering="crispEdges">
<rect x="880" y="2" width="3" height="1" fill="#B8B8B8" />
<rect x="880" y="4" width="3" height="1" fill="#B8B8B8" />
<rect x="880" y="6" width="3" height="1" fill="#B8B8B8" />
<rect x="880" y="8" width="3" height="1" fill="#B8B8B8" />
<rect x="880" y="10" width="3" height="1" fill="#B8B8B8" />
<rect x="880" y="12" width="3" height="1" fill="#B8B8B8" />
<rect x="880" y="14" width="3" height="1" fill="#B8B8B8" />
<rect x="880" y="16" width="3" height="1" fill="#B8B8B8" />
<rect x="880" y="18" width="3" height="1" fill="#B8B8B8" />
<rect x="880" y="20" width="3" height="1" fill="#B8B8B8" />
</g>
<text x="891" y="15.3" font-size="10.6" fill="#454545" textLength="13" lengthAdjust="spacingAndGlyphs" text-rendering="geometricPrecision" >M1</text>
<text x="919.5" y="15.3" font-size="10.6" fill="#454545" textLength="13" lengthAdjust="spacingAndGlyphs" text-rendering="geometricPrecision" >M5</text>
<text x="945.5" y="15.3" font-size="10.6" fill="#454545" textLength="17.5" lengthAdjust="spacingAndGlyphs" text-rendering="geometricPrecision" >M15</text>
<text x="973" y="15.3" font-size="10.6" fill="#454545" textLength="18" lengthAdjust="spacingAndGlyphs" text-rendering="geometricPrecision" >M30</text>
<text x="1004.5" y="15.3" font-size="10.6" fill="#454545" textLength="11.5" lengthAdjust="spacingAndGlyphs" text-rendering="geometricPrecision" >H1</text>
<text x="1061" y="15.3" font-size="10.6" fill="#454545" textLength="11.5" lengthAdjust="spacingAndGlyphs" text-rendering="geometricPrecision" >D1</text>
<text x="1087.5" y="15.3" font-size="10.6" fill="#454545" textLength="15" lengthAdjust="spacingAndGlyphs" text-rendering="geometricPrecision" >W1</text>
<text x="1114.5" y="15.3" font-size="10.6" fill="#454545" textLength="15" lengthAdjust="spacingAndGlyphs" text-rendering="geometricPrecision" >MN</text>
<rect x="1027" y="0" width="24" height="22" fill="url(#chk)" shape-rendering="crispEdges"/>
<rect x="1026" y="1" width="1" height="20" fill="#A0A0A0" shape-rendering="crispEdges"/>
<text x="1032" y="15.3" font-size="10.6" fill="#454545" textLength="12" lengthAdjust="spacingAndGlyphs" text-rendering="geometricPrecision" >H4</text>
<rect x="1137" y="2" width="1" height="19" fill="#A0A0A0" shape-rendering="crispEdges"/><rect x="1138" y="2" width="1" height="19" fill="#FFFFFF" shape-rendering="crispEdges"/>
<circle cx="1607.6" cy="8.6" r="4.2" fill="#F4F8FF" stroke="#2864D8" stroke-width="1.4"/><line x1="1604.6" y1="11.8" x2="1600" y2="16.2" stroke="#3A72E0" stroke-width="2.3" stroke-linecap="round"/>
<ellipse cx="1640" cy="8.4" rx="6.6" ry="4.8" fill="#E4E4E4" stroke="#909090" stroke-width="1"/><path d="M1640,12.6 L1642,15.4 L1643.4,12.4" fill="#F4F4F4" stroke="#909090" stroke-width="0.8"/><ellipse cx="1631.4" cy="12" rx="5" ry="3.8" fill="#FAFAFA" stroke="#909090" stroke-width="1"/><path d="M1629,15.2 L1628.6,17.8 L1631.6,15.6" fill="#FAFAFA" stroke="#909090" stroke-width="0.8"/>
</svg>
</body></html>
